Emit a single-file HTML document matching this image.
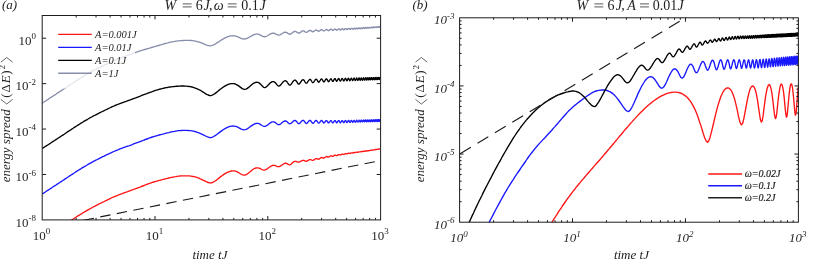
<!DOCTYPE html>
<html><head><meta charset="utf-8"><title>energy spread</title>
<style>
html,body{margin:0;padding:0;background:#fff;}
body{width:814px;height:259px;overflow:hidden;font-family:"Liberation Serif",serif;}
svg{display:block;will-change:transform;}
text{font-family:"Liberation Serif",serif;fill:#222;}
.li{font-style:italic;}
.lr{font-style:normal;}
.ti{font-style:italic;fill:#262626;}
.tr{font-style:normal;fill:#262626;}
</style></head><body>
<svg width="814" height="259" viewBox="0 0 814 259">
<defs>
<clipPath id="ca"><rect x="42.20" y="15.50" width="338.40" height="204.40"/></clipPath>
<clipPath id="cb"><rect x="459.60" y="17.80" width="338.80" height="204.40"/></clipPath>
</defs>
<rect width="814" height="259" fill="#fff"/>
<g clip-path="url(#ca)" fill="none" stroke-linejoin="round" stroke-width="1.35">
<path d="M42.2 239.4L43.6 238.5L45.0 237.6L46.3 236.7L47.7 235.8L49.1 234.9L50.5 234.0L51.8 233.1L53.2 232.2L54.6 231.3L56.0 230.4L57.3 229.5L58.7 228.6L60.1 227.7L61.5 226.8L62.9 225.9L64.2 225.0L65.6 224.1L67.0 223.1L68.4 222.2L69.7 221.3L71.1 220.4L72.5 219.5L73.9 218.6L75.2 217.7L76.6 216.8L78.0 215.9L79.4 215.1L80.8 214.2L82.1 213.4L83.5 212.5L84.9 211.7L86.3 210.9L87.6 210.1L89.0 209.3L90.4 208.5L91.8 207.8L93.1 207.0L94.5 206.3L95.9 205.6L97.3 204.9L98.6 204.2L100.0 203.5L101.4 202.8L102.8 202.2L104.2 201.5L105.5 200.8L106.9 200.2L108.3 199.5L109.7 198.8L111.0 198.2L112.4 197.5L113.8 196.9L115.2 196.3L116.5 195.8L117.9 195.2L119.3 194.7L120.7 194.1L122.1 193.6L123.4 193.1L124.8 192.6L126.2 192.1L127.6 191.7L128.9 191.2L130.3 190.7L131.7 190.2L133.1 189.7L134.4 189.2L135.8 188.6L137.2 188.1L138.6 187.6L140.0 187.1L141.3 186.5L142.7 186.0L144.1 185.5L145.5 184.9L146.8 184.4L148.2 183.9L149.6 183.4L151.0 182.9L152.3 182.4L153.7 182.0L155.1 181.6L156.5 181.2L157.9 180.8L159.2 180.4L160.6 180.1L162.0 179.7L163.4 179.4L164.7 179.0L166.1 178.7L167.5 178.3L168.9 178.0L170.2 177.7L171.6 177.4L173.0 177.1L174.4 176.8L175.7 176.6L177.1 176.3L178.5 176.2L179.9 176.0L181.3 175.9L182.6 175.9L184.0 175.8L185.3 175.8L186.7 175.8L188.0 175.8L189.4 175.9L190.8 176.1L192.1 176.3L193.5 176.5L194.8 176.8L196.2 177.2L197.5 177.7L198.9 178.2L200.2 178.8L201.6 179.4L202.9 180.1L204.3 180.7L205.6 181.4L207.0 182.0L208.4 182.5L209.7 182.9L211.1 182.9L212.4 182.5L213.8 181.8L215.1 181.0L216.5 180.1L217.8 179.0L219.2 177.9L220.5 176.9L221.9 175.8L223.2 174.9L224.6 173.9L225.9 173.1L227.3 172.4L228.7 171.8L230.0 171.3L231.4 171.0L232.7 170.8L234.1 170.9L235.4 171.2L236.8 171.7L238.1 172.3L239.5 173.2L240.8 174.0L242.2 174.7L243.5 175.1L244.9 175.1L246.2 174.6L247.6 173.7L248.8 172.7L250.1 171.7L251.3 170.7L252.5 169.8L253.6 169.0L254.8 168.4L255.9 168.0L256.9 167.8L258.0 167.9L259.0 168.1L260.0 168.5L261.0 169.0L262.0 169.6L263.0 169.9L263.9 170.1L264.8 170.0L265.7 169.7L266.6 169.2L267.5 168.6L268.3 168.0L269.2 167.3L270.0 166.7L270.8 166.2L271.6 165.8L272.4 165.5L273.1 165.4L273.9 165.4L274.7 165.5L275.4 165.7L276.1 166.0L276.8 166.3L277.5 166.6L278.2 166.7L278.9 166.6L279.6 166.5L280.3 166.1L280.9 165.7L281.6 165.3L282.2 164.8L282.8 164.4L283.5 164.0L284.1 163.6L284.7 163.4L285.3 163.2L285.9 163.2L286.5 163.4L287.1 163.7L287.6 164.0L288.2 164.4L288.8 164.7L289.3 164.8L289.9 164.8L290.4 164.6L290.9 164.3L291.5 163.8L292.0 163.3L292.5 162.8L293.0 162.4L293.5 162.0L294.0 161.7L294.5 161.5L295.0 161.4L295.5 161.4L296.0 161.4L296.5 161.6L297.0 161.8L297.4 161.9L297.9 162.0L298.4 162.1L298.8 162.1L299.3 162.0L299.7 161.8L300.2 161.6L300.6 161.4L301.0 161.1L301.5 160.9L301.9 160.7L302.3 160.5L302.7 160.4L303.2 160.3L303.6 160.4L304.0 160.4L304.4 160.6L304.8 160.8L305.2 161.0L305.6 161.1L306.0 161.2L306.4 161.2L306.8 161.2L307.1 161.0L307.5 160.8L307.9 160.6L308.3 160.4L308.6 160.2L309.0 159.9L309.4 159.8L309.7 159.6L310.1 159.6L310.5 159.6L310.8 159.7L311.2 159.8L311.5 160.0L311.9 160.2L312.2 160.3L312.6 160.3L312.9 160.3L313.3 160.2L313.6 160.1L313.9 159.9L314.3 159.7L314.6 159.4L314.9 159.2L315.2 159.0L315.6 158.8L315.9 158.7L316.2 158.6L316.5 158.6L316.8 158.6L317.2 158.8L317.5 158.9L317.8 159.0L318.1 159.2L318.4 159.2L318.7 159.2L319.0 159.1L319.3 158.9L319.6 158.7L319.9 158.5L320.2 158.3L320.5 158.1L320.8 157.9L321.0 157.7L321.3 157.6L321.6 157.5L321.9 157.5L322.2 157.6L322.5 157.7L322.7 157.8L323.0 157.9L323.3 158.0L323.6 158.1L323.9 158.1L324.1 158.0L324.4 157.8L324.7 157.7L324.9 157.5L325.2 157.3L325.5 157.1L325.7 156.9L326.0 156.7L326.2 156.6L326.5 156.5L326.8 156.5L327.0 156.6L327.3 156.7L327.5 156.8L327.8 157.0L328.0 157.1L328.3 157.1L328.5 157.1L328.8 157.0L329.0 156.9L329.3 156.8L329.5 156.6L329.7 156.4L330.0 156.2L330.2 156.1L330.5 155.9L330.7 155.8L330.9 155.8L331.2 155.8L331.4 155.8L331.6 155.9L331.9 156.1L332.1 156.2L332.3 156.3L332.6 156.3L332.8 156.3L333.0 156.3L333.2 156.2L333.5 156.0L333.7 155.9L333.9 155.7L334.1 155.5L334.4 155.4L334.6 155.3L334.8 155.2L335.0 155.1L335.2 155.1L335.4 155.2L335.7 155.3L335.9 155.4L336.1 155.5L336.3 155.6L336.5 155.6L336.7 155.6L336.9 155.6L337.1 155.5L337.3 155.4L337.5 155.2L337.7 155.1L338.0 154.9L338.2 154.8L338.4 154.7L338.6 154.6L338.8 154.6L339.0 154.6L339.2 154.6L339.4 154.7L339.6 154.8L339.8 154.9L340.0 155.0L340.1 155.0L340.3 155.0L340.5 155.0L340.7 154.9L340.9 154.8L341.1 154.6L341.3 154.5L341.5 154.4L341.7 154.3L341.9 154.2L342.1 154.1L342.2 154.1L342.4 154.1L342.6 154.1L342.8 154.2L343.0 154.3L343.2 154.3L343.4 154.4L343.5 154.4L343.7 154.4L343.9 154.4L344.1 154.3L344.3 154.2L344.4 154.1L344.6 154.0L344.8 153.9L345.0 153.8L345.2 153.7L345.3 153.6L345.5 153.6L345.7 153.6L345.9 153.6L346.0 153.7L346.2 153.8L346.4 153.8L346.5 153.9L346.7 153.9L346.9 153.9L347.1 153.9L347.2 153.8L347.4 153.7L347.6 153.6L347.7 153.5L347.9 153.4L348.1 153.3L348.2 153.2L348.4 153.2L348.6 153.2L348.7 153.2L348.9 153.2L349.0 153.3L349.2 153.3L349.4 153.4L349.5 153.4L349.7 153.5L349.9 153.5L350.0 153.4L350.2 153.4L350.3 153.3L350.5 153.2L350.7 153.1L350.8 153.0L351.0 152.9L351.1 152.8L351.3 152.8L351.4 152.8L351.6 152.8L351.7 152.8L351.9 152.8L352.0 152.9L352.2 153.0L352.4 153.0L352.5 153.0L352.7 153.0L352.8 153.0L353.0 152.9L353.1 152.9L353.3 152.8L353.4 152.7L353.6 152.6L353.7 152.5L353.9 152.5L354.0 152.4L354.1 152.4L354.3 152.4L354.4 152.4L354.6 152.5L354.7 152.5L354.9 152.6L355.0 152.6L355.2 152.6L355.3 152.6L355.5 152.6L355.6 152.6L355.7 152.5L355.9 152.4L356.0 152.3L356.2 152.3L356.3 152.2L356.4 152.1L356.6 152.1L356.7 152.1L356.9 152.1L357.0 152.1L357.1 152.1L357.3 152.2L357.4 152.2L357.5 152.3L357.7 152.3L357.8 152.3L358.0 152.2L358.1 152.2L358.2 152.1L358.4 152.1L358.5 152.0L358.6 151.9L358.8 151.9L358.9 151.8L359.0 151.8L359.2 151.8L359.3 151.8L359.4 151.8L359.6 151.8L359.7 151.9L359.8 151.9L360.0 151.9L360.1 151.9L360.2 151.9L360.3 151.9L360.5 151.9L360.6 151.8L360.7 151.8L360.9 151.7L361.0 151.6L361.1 151.6L361.2 151.5L361.4 151.5L361.5 151.5L361.6 151.5L361.7 151.5L361.9 151.5L362.0 151.5L362.1 151.6L362.2 151.6L362.4 151.6L362.5 151.6L362.6 151.6L362.7 151.5L362.9 151.5L363.0 151.4L363.1 151.4L363.2 151.3L363.4 151.3L363.5 151.2L363.6 151.2L363.7 151.2L363.8 151.2L364.0 151.2L364.1 151.2L364.2 151.2L364.3 151.3L364.4 151.3L364.6 151.3L364.7 151.3L364.8 151.3L364.9 151.2L365.0 151.2L365.1 151.1L365.3 151.1L365.4 151.0L365.5 151.0L365.6 150.9L365.7 150.9L365.8 150.9L366.0 150.9L366.1 150.9L366.2 150.9L366.3 150.9L366.4 151.0L366.5 151.0L366.6 151.0L366.8 151.0L366.9 151.0L367.0 150.9L367.1 150.9L367.2 150.8L367.3 150.8L367.4 150.7L367.5 150.7L367.7 150.7L367.8 150.6L367.9 150.6L368.0 150.6L368.1 150.6L368.2 150.6L368.3 150.7L368.4 150.7L368.5 150.7L368.6 150.7L368.8 150.7L368.9 150.7L369.0 150.6L369.1 150.6L369.2 150.6L369.3 150.5L369.4 150.5L369.5 150.4L369.6 150.4L369.7 150.4L369.8 150.3L369.9 150.3L370.0 150.3L370.2 150.4L370.3 150.4L370.4 150.4L370.5 150.4L370.6 150.4L370.7 150.4L370.8 150.4L370.9 150.4L371.0 150.3L371.1 150.3L371.2 150.2L371.3 150.2L371.4 150.1L371.5 150.1L371.6 150.1L371.7 150.1L371.8 150.1L371.9 150.1L372.0 150.1L372.1 150.1L372.2 150.1L372.3 150.1L372.4 150.1L372.5 150.1L372.6 150.1L372.7 150.1L372.8 150.0L372.9 150.0L373.0 150.0L373.1 149.9L373.2 149.9L373.3 149.8L373.4 149.8L373.5 149.8L373.6 149.8L373.7 149.8L373.8 149.8L373.9 149.8L374.0 149.8L374.1 149.9L374.2 149.9L374.3 149.9L374.4 149.8L374.5 149.8L374.6 149.8L374.7 149.7L374.8 149.7L374.9 149.6L375.0 149.6L375.1 149.6L375.2 149.5L375.3 149.5L375.4 149.5L375.5 149.5L375.6 149.5L375.7 149.6L375.7 149.6L375.8 149.6L375.9 149.6L376.0 149.6L376.1 149.6L376.2 149.5L376.3 149.5L376.4 149.5L376.5 149.4L376.6 149.4L376.7 149.3L376.8 149.3L376.9 149.3L377.0 149.3L377.0 149.3L377.1 149.3L377.2 149.3L377.3 149.3L377.4 149.3L377.5 149.3L377.6 149.3L377.7 149.3L377.8 149.3L377.9 149.3L378.0 149.3L378.1 149.2L378.1 149.2L378.2 149.1L378.3 149.1L378.4 149.1L378.5 149.0L378.6 149.0L378.7 149.0L378.8 149.0L378.9 149.0L378.9 149.1L379.0 149.1L379.1 149.1L379.2 149.1L379.3 149.1L379.4 149.1L379.5 149.1L379.6 149.0L379.6 149.0L379.7 148.9L379.8 148.9L379.9 148.8L380.0 148.8L380.1 148.8L380.2 148.8L380.3 148.8L380.3 148.8L380.4 148.8L380.5 148.8L380.6 148.8L380.6 148.8" stroke="#ff1414"/>
<path d="M42.2 193.9L43.6 193.1L45.0 192.2L46.3 191.3L47.7 190.4L49.1 189.5L50.5 188.6L51.8 187.7L53.2 186.8L54.6 185.9L56.0 185.0L57.3 184.1L58.7 183.2L60.1 182.3L61.5 181.4L62.9 180.5L64.2 179.6L65.6 178.6L67.0 177.7L68.4 176.8L69.7 175.9L71.1 175.0L72.5 174.1L73.9 173.2L75.2 172.3L76.6 171.4L78.0 170.5L79.4 169.6L80.8 168.8L82.1 167.9L83.5 167.1L84.9 166.3L86.3 165.5L87.6 164.7L89.0 163.9L90.4 163.1L91.8 162.3L93.1 161.6L94.5 160.9L95.9 160.2L97.3 159.5L98.6 158.8L100.0 158.1L101.4 157.4L102.8 156.7L104.2 156.1L105.5 155.4L106.9 154.7L108.3 154.1L109.7 153.4L111.0 152.8L112.4 152.1L113.8 151.5L115.2 150.9L116.5 150.3L117.9 149.8L119.3 149.2L120.7 148.7L122.1 148.2L123.4 147.7L124.8 147.2L126.2 146.7L127.6 146.2L128.9 145.8L130.3 145.3L131.7 144.8L133.1 144.2L134.4 143.7L135.8 143.2L137.2 142.7L138.6 142.2L140.0 141.6L141.3 141.1L142.7 140.6L144.1 140.0L145.5 139.5L146.8 139.0L148.2 138.5L149.6 137.9L151.0 137.5L152.3 137.0L153.7 136.6L155.1 136.2L156.5 135.8L157.9 135.4L159.2 135.0L160.6 134.6L162.0 134.3L163.4 133.9L164.7 133.6L166.1 133.2L167.5 132.9L168.9 132.6L170.2 132.2L171.6 131.9L173.0 131.6L174.4 131.4L175.7 131.1L177.1 130.9L178.5 130.7L179.9 130.6L181.3 130.5L182.6 130.4L184.0 130.4L185.3 130.4L186.7 130.4L188.0 130.5L189.4 130.6L190.8 130.7L192.1 130.9L193.5 131.2L194.8 131.5L196.2 131.9L197.5 132.4L198.9 132.9L200.2 133.4L201.6 134.1L202.9 134.7L204.3 135.4L205.6 136.0L207.0 136.6L208.4 137.1L209.7 137.5L211.1 137.6L212.4 137.2L213.8 136.5L215.1 135.6L216.5 134.7L217.8 133.7L219.2 132.6L220.5 131.6L221.9 130.6L223.2 129.7L224.6 128.8L225.9 128.1L227.3 127.4L228.7 126.8L230.0 126.4L231.4 126.1L232.7 126.0L234.1 126.1L235.4 126.3L236.8 126.7L238.1 127.3L239.5 128.1L240.8 128.8L242.2 129.4L243.5 129.8L244.9 129.7L246.2 129.3L247.6 128.6L248.8 127.8L250.1 126.8L251.3 125.9L252.5 125.1L253.6 124.4L254.8 123.9L255.9 123.5L256.9 123.3L258.0 123.4L259.0 123.7L260.0 124.2L261.0 124.9L262.0 125.5L263.0 126.0L263.9 126.4L264.8 126.4L265.7 126.2L266.6 125.7L267.5 125.1L268.3 124.4L269.2 123.8L270.0 123.1L270.8 122.6L271.6 122.2L272.4 121.9L273.1 121.8L273.9 121.9L274.7 122.2L275.4 122.6L276.1 123.2L276.8 123.8L277.5 124.3L278.2 124.6L278.9 124.7L279.6 124.5L280.3 124.1L280.9 123.7L281.6 123.1L282.2 122.5L282.8 122.0L283.5 121.6L284.1 121.2L284.7 121.0L285.3 120.9L285.9 121.0L286.5 121.3L287.1 121.8L287.6 122.3L288.2 122.9L288.8 123.3L289.3 123.7L289.9 123.8L290.4 123.7L290.9 123.4L291.5 123.0L292.0 122.5L292.5 122.0L293.0 121.5L293.5 121.0L294.0 120.7L294.5 120.5L295.0 120.5L295.5 120.6L296.0 120.9L296.5 121.4L297.0 122.0L297.4 122.6L297.9 123.2L298.4 123.5L298.8 123.7L299.3 123.6L299.7 123.3L300.2 122.8L300.6 122.3L301.0 121.8L301.5 121.3L301.9 120.9L302.3 120.6L302.7 120.4L303.2 120.4L303.6 120.5L304.0 120.8L304.4 121.3L304.8 121.9L305.2 122.5L305.6 123.0L306.0 123.3L306.4 123.5L306.8 123.4L307.1 123.1L307.5 122.7L307.9 122.2L308.3 121.7L308.6 121.3L309.0 120.9L309.4 120.6L309.7 120.4L310.1 120.4L310.5 120.5L310.8 120.8L311.2 121.3L311.5 121.8L311.9 122.4L312.2 122.8L312.6 123.2L312.9 123.3L313.3 123.2L313.6 122.9L313.9 122.6L314.3 122.1L314.6 121.7L314.9 121.3L315.2 120.9L315.6 120.6L315.9 120.5L316.2 120.5L316.5 120.6L316.8 120.9L317.2 121.3L317.5 121.8L317.8 122.3L318.1 122.7L318.4 123.0L318.7 123.1L319.0 123.0L319.3 122.8L319.6 122.5L319.9 122.1L320.2 121.7L320.5 121.3L320.8 120.9L321.0 120.7L321.3 120.5L321.6 120.5L321.9 120.6L322.2 120.9L322.5 121.3L322.7 121.7L323.0 122.2L323.3 122.6L323.6 122.9L323.9 123.0L324.1 122.9L324.4 122.7L324.7 122.4L324.9 122.0L325.2 121.6L325.5 121.3L325.7 121.0L326.0 120.7L326.2 120.6L326.5 120.6L326.8 120.7L327.0 120.9L327.3 121.3L327.5 121.7L327.8 122.2L328.0 122.6L328.3 122.8L328.5 122.9L328.8 122.8L329.0 122.6L329.3 122.4L329.5 122.0L329.7 121.7L330.0 121.3L330.2 121.0L330.5 120.8L330.7 120.6L330.9 120.6L331.2 120.7L331.4 121.0L331.6 121.3L331.9 121.7L332.1 122.2L332.3 122.5L332.6 122.8L332.8 122.8L333.0 122.8L333.2 122.6L333.5 122.3L333.7 122.0L333.9 121.6L334.1 121.3L334.4 121.0L334.6 120.8L334.8 120.6L335.0 120.6L335.2 120.7L335.4 121.0L335.7 121.3L335.9 121.7L336.1 122.1L336.3 122.5L336.5 122.7L336.7 122.8L336.9 122.7L337.1 122.5L337.3 122.3L337.5 121.9L337.7 121.6L338.0 121.3L338.2 121.0L338.4 120.8L338.6 120.6L338.8 120.6L339.0 120.7L339.2 120.9L339.4 121.3L339.6 121.7L339.8 122.1L340.0 122.4L340.1 122.6L340.3 122.7L340.5 122.7L340.7 122.5L340.9 122.2L341.1 121.9L341.3 121.6L341.5 121.2L341.7 120.9L341.9 120.7L342.1 120.6L342.2 120.6L342.4 120.7L342.6 120.9L342.8 121.2L343.0 121.6L343.2 122.0L343.4 122.3L343.5 122.6L343.7 122.6L343.9 122.6L344.1 122.4L344.3 122.1L344.4 121.8L344.6 121.5L344.8 121.2L345.0 120.9L345.2 120.7L345.3 120.6L345.5 120.5L345.7 120.6L345.9 120.9L346.0 121.2L346.2 121.5L346.4 121.9L346.5 122.2L346.7 122.5L346.9 122.5L347.1 122.5L347.2 122.3L347.4 122.1L347.6 121.7L347.7 121.4L347.9 121.1L348.1 120.8L348.2 120.6L348.4 120.5L348.6 120.5L348.7 120.6L348.9 120.8L349.0 121.1L349.2 121.5L349.4 121.8L349.5 122.1L349.7 122.4L349.9 122.4L350.0 122.4L350.2 122.2L350.3 121.9L350.5 121.6L350.7 121.3L350.8 121.0L351.0 120.8L351.1 120.5L351.3 120.4L351.4 120.4L351.6 120.5L351.7 120.7L351.9 121.0L352.0 121.4L352.2 121.7L352.4 122.0L352.5 122.2L352.7 122.3L352.8 122.3L353.0 122.1L353.1 121.8L353.3 121.5L353.4 121.2L353.6 120.9L353.7 120.7L353.9 120.5L354.0 120.3L354.1 120.3L354.3 120.4L354.4 120.6L354.6 120.9L354.7 121.3L354.9 121.6L355.0 121.9L355.2 122.1L355.3 122.2L355.5 122.1L355.6 122.0L355.7 121.7L355.9 121.4L356.0 121.1L356.2 120.8L356.3 120.6L356.4 120.4L356.6 120.3L356.7 120.2L356.9 120.3L357.0 120.5L357.1 120.8L357.3 121.2L357.4 121.5L357.5 121.8L357.7 122.0L357.8 122.1L358.0 122.0L358.1 121.9L358.2 121.6L358.4 121.3L358.5 121.0L358.6 120.8L358.8 120.5L358.9 120.3L359.0 120.2L359.2 120.2L359.3 120.2L359.4 120.4L359.6 120.7L359.7 121.1L359.8 121.4L360.0 121.7L360.1 121.9L360.2 122.0L360.3 121.9L360.5 121.8L360.6 121.5L360.7 121.3L360.9 121.0L361.0 120.7L361.1 120.4L361.2 120.2L361.4 120.1L361.5 120.1L361.6 120.2L361.7 120.4L361.9 120.7L362.0 121.0L362.1 121.4L362.2 121.6L362.4 121.8L362.5 121.9L362.6 121.9L362.7 121.7L362.9 121.5L363.0 121.2L363.1 120.9L363.2 120.6L363.4 120.4L363.5 120.2L363.6 120.1L363.7 120.0L363.8 120.1L364.0 120.3L364.1 120.6L364.2 120.9L364.3 121.3L364.4 121.6L364.6 121.8L364.7 121.8L364.8 121.8L364.9 121.6L365.0 121.4L365.1 121.1L365.3 120.8L365.4 120.6L365.5 120.3L365.6 120.1L365.7 120.0L365.8 120.0L366.0 120.1L366.1 120.3L366.2 120.5L366.3 120.9L366.4 121.2L366.5 121.5L366.6 121.7L366.8 121.8L366.9 121.7L367.0 121.6L367.1 121.3L367.2 121.1L367.3 120.8L367.4 120.5L367.5 120.2L367.7 120.1L367.8 119.9L367.9 119.9L368.0 120.0L368.1 120.2L368.2 120.5L368.3 120.8L368.4 121.2L368.5 121.5L368.6 121.6L368.8 121.7L368.9 121.7L369.0 121.5L369.1 121.3L369.2 121.0L369.3 120.7L369.4 120.4L369.5 120.2L369.6 120.0L369.7 119.9L369.8 119.9L369.9 119.9L370.0 120.1L370.2 120.4L370.3 120.8L370.4 121.1L370.5 121.4L370.6 121.6L370.7 121.7L370.8 121.6L370.9 121.5L371.0 121.2L371.1 121.0L371.2 120.7L371.3 120.4L371.4 120.1L371.5 119.9L371.6 119.8L371.7 119.8L371.8 119.9L371.9 120.1L372.0 120.4L372.1 120.7L372.2 121.0L372.3 121.3L372.4 121.5L372.5 121.6L372.6 121.6L372.7 121.4L372.8 121.2L372.9 120.9L373.0 120.6L373.1 120.3L373.2 120.1L373.3 119.9L373.4 119.8L373.5 119.8L373.6 119.8L373.7 120.0L373.8 120.3L373.9 120.7L374.0 121.0L374.1 121.3L374.2 121.5L374.3 121.6L374.4 121.5L374.5 121.4L374.6 121.1L374.7 120.8L374.8 120.6L374.9 120.3L375.0 120.0L375.1 119.8L375.2 119.7L375.3 119.7L375.4 119.8L375.5 120.0L375.6 120.3L375.7 120.6L375.7 120.9L375.8 121.2L375.9 121.4L376.0 121.5L376.1 121.5L376.2 121.3L376.3 121.1L376.4 120.8L376.5 120.5L376.6 120.2L376.7 120.0L376.8 119.8L376.9 119.7L377.0 119.6L377.0 119.7L377.1 119.9L377.2 120.2L377.3 120.6L377.4 120.9L377.5 121.2L377.6 121.4L377.7 121.5L377.8 121.4L377.9 121.3L378.0 121.0L378.1 120.8L378.1 120.5L378.2 120.2L378.3 119.9L378.4 119.7L378.5 119.6L378.6 119.6L378.7 119.7L378.8 119.9L378.9 120.2L378.9 120.5L379.0 120.9L379.1 121.2L379.2 121.3L379.3 121.4L379.4 121.4L379.5 121.2L379.6 121.0L379.6 120.7L379.7 120.4L379.8 120.1L379.9 119.9L380.0 119.7L380.1 119.6L380.2 119.6L380.3 119.6L380.3 119.8L380.4 120.1L380.5 120.5L380.6 120.8L380.6 120.8" stroke="#1818ff"/>
<path d="M42.2 148.5L43.6 147.6L44.9 146.8L46.3 145.9L47.7 145.0L49.1 144.1L50.4 143.2L51.8 142.3L53.2 141.4L54.6 140.5L55.9 139.6L57.3 138.7L58.7 137.8L60.1 136.9L61.4 136.0L62.8 135.1L64.2 134.2L65.6 133.2L66.9 132.3L68.3 131.4L69.7 130.5L71.1 129.6L72.4 128.7L73.8 127.8L75.2 126.9L76.6 126.0L77.9 125.1L79.3 124.3L80.7 123.4L82.1 122.5L83.4 121.7L84.8 120.9L86.2 120.1L87.6 119.3L88.9 118.5L90.3 117.7L91.7 117.0L93.1 116.2L94.4 115.5L95.8 114.8L97.2 114.1L98.6 113.4L99.9 112.7L101.3 112.0L102.7 111.4L104.1 110.7L105.4 110.0L106.8 109.4L108.2 108.7L109.6 108.0L110.9 107.4L112.3 106.7L113.7 106.1L115.0 105.5L116.4 105.0L117.8 104.4L119.2 103.9L120.5 103.4L121.9 102.8L123.3 102.3L124.7 101.8L126.0 101.4L127.4 100.9L128.8 100.4L130.2 99.9L131.5 99.4L132.9 98.9L134.3 98.4L135.7 97.9L137.0 97.3L138.4 96.8L139.8 96.3L141.2 95.7L142.5 95.2L143.9 94.7L145.3 94.2L146.7 93.7L148.0 93.1L149.4 92.6L150.8 92.1L152.2 91.6L153.5 91.1L154.9 90.6L156.3 90.2L157.7 89.8L159.0 89.4L160.4 89.0L161.8 88.7L163.2 88.3L164.5 88.0L165.9 87.7L167.3 87.5L168.7 87.2L170.0 87.0L171.4 86.8L172.8 86.6L174.2 86.5L175.5 86.3L176.9 86.2L178.3 86.2L179.7 86.1L181.0 86.0L182.4 86.0L183.8 86.0L185.1 86.1L186.5 86.1L187.8 86.3L189.2 86.5L190.5 86.7L191.9 87.0L193.2 87.3L194.6 87.8L195.9 88.3L197.3 88.9L198.6 89.5L200.0 90.2L201.4 91.0L202.7 91.9L204.1 92.7L205.4 93.6L206.8 94.4L208.1 95.0L209.5 95.5L210.8 95.6L212.2 95.2L213.5 94.5L214.9 93.6L216.2 92.6L217.6 91.5L218.9 90.4L220.3 89.3L221.7 88.3L223.0 87.3L224.4 86.4L225.7 85.6L227.1 84.9L228.4 84.4L229.8 83.9L231.1 83.7L232.5 83.6L233.8 83.7L235.2 84.0L236.5 84.6L237.9 85.4L239.3 86.4L240.6 87.4L242.0 88.4L243.3 89.2L244.7 89.4L246.0 89.1L247.3 88.4L248.6 87.4L249.9 86.3L251.1 85.2L252.3 84.2L253.4 83.4L254.6 82.8L255.7 82.3L256.8 82.2L257.8 82.4L258.9 82.8L259.9 83.6L260.9 84.5L261.8 85.6L262.8 86.6L263.7 87.3L264.7 87.6L265.6 87.4L266.4 86.8L267.3 86.0L268.2 85.1L269.0 84.2L269.8 83.3L270.7 82.6L271.5 82.1L272.2 81.7L273.0 81.6L273.8 81.7L274.5 82.1L275.3 82.7L276.0 83.5L276.7 84.4L277.4 85.2L278.1 85.8L278.8 86.1L279.5 85.9L280.2 85.4L280.8 84.7L281.5 83.9L282.1 83.1L282.7 82.3L283.4 81.7L284.0 81.2L284.6 80.8L285.2 80.7L285.8 80.8L286.4 81.2L287.0 81.8L287.5 82.6L288.1 83.5L288.7 84.3L289.2 84.9L289.8 85.1L290.3 85.0L290.9 84.5L291.4 83.9L291.9 83.1L292.4 82.4L292.9 81.6L293.5 81.0L294.0 80.5L294.5 80.2L295.0 80.1L295.4 80.2L295.9 80.6L296.4 81.2L296.9 81.9L297.3 82.7L297.8 83.4L298.3 83.9L298.7 84.1L299.2 84.0L299.6 83.6L300.1 83.0L300.5 82.3L301.0 81.7L301.4 81.0L301.8 80.5L302.2 80.1L302.7 79.8L303.1 79.7L303.5 79.8L303.9 80.1L304.3 80.7L304.7 81.3L305.1 82.0L305.5 82.6L305.9 83.1L306.3 83.2L306.7 83.1L307.1 82.8L307.5 82.3L307.8 81.7L308.2 81.1L308.6 80.6L309.0 80.1L309.3 79.7L309.7 79.5L310.0 79.4L310.4 79.5L310.8 79.8L311.1 80.3L311.5 80.9L311.8 81.5L312.2 82.1L312.5 82.5L312.9 82.7L313.2 82.6L313.5 82.3L313.9 81.9L314.2 81.3L314.5 80.8L314.9 80.3L315.2 79.8L315.5 79.5L315.8 79.3L316.2 79.2L316.5 79.3L316.8 79.6L317.1 80.0L317.4 80.6L317.7 81.2L318.0 81.7L318.3 82.1L318.6 82.3L318.9 82.2L319.2 81.9L319.5 81.5L319.8 81.0L320.1 80.5L320.4 80.1L320.7 79.6L321.0 79.3L321.3 79.1L321.6 79.0L321.9 79.1L322.1 79.4L322.4 79.8L322.7 80.4L323.0 80.9L323.3 81.4L323.5 81.8L323.8 81.9L324.1 81.9L324.3 81.6L324.6 81.3L324.9 80.8L325.1 80.3L325.4 79.9L325.7 79.5L325.9 79.1L326.2 78.9L326.5 78.9L326.7 79.0L327.0 79.2L327.2 79.7L327.5 80.2L327.7 80.7L328.0 81.2L328.2 81.5L328.5 81.7L328.7 81.6L329.0 81.4L329.2 81.0L329.5 80.6L329.7 80.1L329.9 79.7L330.2 79.3L330.4 79.0L330.7 78.8L330.9 78.8L331.1 78.9L331.4 79.1L331.6 79.5L331.8 80.0L332.1 80.5L332.3 81.0L332.5 81.3L332.7 81.4L333.0 81.4L333.2 81.2L333.4 80.8L333.6 80.4L333.9 80.0L334.1 79.6L334.3 79.2L334.5 78.9L334.8 78.7L335.0 78.6L335.2 78.7L335.4 79.0L335.6 79.4L335.8 79.9L336.0 80.4L336.3 80.8L336.5 81.1L336.7 81.3L336.9 81.2L337.1 81.0L337.3 80.7L337.5 80.3L337.7 79.8L337.9 79.4L338.1 79.1L338.3 78.8L338.5 78.6L338.7 78.5L338.9 78.6L339.1 78.9L339.3 79.3L339.5 79.7L339.7 80.2L339.9 80.6L340.1 80.9L340.3 81.1L340.5 81.0L340.7 80.8L340.9 80.5L341.1 80.1L341.3 79.7L341.5 79.3L341.7 78.9L341.8 78.7L342.0 78.5L342.2 78.4L342.4 78.5L342.6 78.8L342.8 79.1L343.0 79.6L343.1 80.1L343.3 80.5L343.5 80.8L343.7 80.9L343.9 80.9L344.1 80.7L344.2 80.4L344.4 80.0L344.6 79.6L344.8 79.2L344.9 78.8L345.1 78.6L345.3 78.4L345.5 78.3L345.7 78.4L345.8 78.7L346.0 79.0L346.2 79.5L346.3 80.0L346.5 80.4L346.7 80.7L346.9 80.8L347.0 80.8L347.2 80.6L347.4 80.2L347.5 79.9L347.7 79.5L347.9 79.1L348.0 78.7L348.2 78.5L348.4 78.3L348.5 78.2L348.7 78.3L348.9 78.6L349.0 78.9L349.2 79.4L349.3 79.8L349.5 80.3L349.7 80.6L349.8 80.7L350.0 80.6L350.1 80.4L350.3 80.1L350.5 79.8L350.6 79.4L350.8 79.0L350.9 78.6L351.1 78.4L351.3 78.2L351.4 78.2L351.6 78.2L351.7 78.5L351.9 78.8L352.0 79.3L352.2 79.7L352.3 80.2L352.5 80.5L352.6 80.6L352.8 80.5L352.9 80.3L353.1 80.0L353.2 79.7L353.4 79.3L353.5 78.9L353.7 78.6L353.8 78.3L354.0 78.1L354.1 78.1L354.3 78.2L354.4 78.4L354.6 78.7L354.7 79.2L354.9 79.7L355.0 80.1L355.1 80.4L355.3 80.5L355.4 80.4L355.6 80.2L355.7 79.9L355.9 79.6L356.0 79.2L356.1 78.8L356.3 78.5L356.4 78.2L356.6 78.0L356.7 78.0L356.8 78.1L357.0 78.3L357.1 78.7L357.3 79.1L357.4 79.6L357.5 80.0L357.7 80.3L357.8 80.4L357.9 80.3L358.1 80.2L358.2 79.9L358.3 79.5L358.5 79.1L358.6 78.7L358.7 78.4L358.9 78.1L359.0 78.0L359.1 77.9L359.3 78.0L359.4 78.2L359.5 78.6L359.7 79.0L359.8 79.5L359.9 79.9L360.1 80.2L360.2 80.3L360.3 80.2L360.4 80.1L360.6 79.8L360.7 79.4L360.8 79.0L361.0 78.7L361.1 78.3L361.2 78.1L361.3 77.9L361.5 77.9L361.6 78.0L361.7 78.2L361.8 78.5L362.0 78.9L362.1 79.4L362.2 79.8L362.3 80.1L362.5 80.2L362.6 80.1L362.7 80.0L362.8 79.7L363.0 79.3L363.1 79.0L363.2 78.6L363.3 78.3L363.5 78.0L363.6 77.9L363.7 77.8L363.8 77.9L363.9 78.1L364.1 78.5L364.2 78.9L364.3 79.3L364.4 79.7L364.5 80.0L364.6 80.1L364.8 80.1L364.9 79.9L365.0 79.6L365.1 79.3L365.2 78.9L365.4 78.5L365.5 78.2L365.6 78.0L365.7 77.8L365.8 77.7L365.9 77.8L366.1 78.1L366.2 78.4L366.3 78.8L366.4 79.2L366.5 79.6L366.6 79.9L366.7 80.0L366.8 80.0L367.0 79.8L367.1 79.5L367.2 79.2L367.3 78.8L367.4 78.5L367.5 78.2L367.6 77.9L367.7 77.7L367.9 77.7L368.0 77.8L368.1 78.0L368.2 78.3L368.3 78.7L368.4 79.2L368.5 79.5L368.6 79.8L368.7 79.9L368.8 79.9L369.0 79.7L369.1 79.4L369.2 79.1L369.3 78.8L369.4 78.4L369.5 78.1L369.6 77.8L369.7 77.7L369.8 77.6L369.9 77.7L370.0 77.9L370.1 78.3L370.2 78.7L370.3 79.1L370.4 79.5L370.6 79.7L370.7 79.8L370.8 79.8L370.9 79.6L371.0 79.4L371.1 79.0L371.2 78.7L371.3 78.3L371.4 78.0L371.5 77.8L371.6 77.6L371.7 77.6L371.8 77.7L371.9 77.9L372.0 78.2L372.1 78.6L372.2 79.0L372.3 79.4L372.4 79.6L372.5 79.8L372.6 79.7L372.7 79.6L372.8 79.3L372.9 79.0L373.0 78.6L373.1 78.3L373.2 78.0L373.3 77.8L373.4 77.6L373.5 77.6L373.6 77.6L373.7 77.8L373.8 78.2L373.9 78.6L374.0 79.0L374.1 79.3L374.2 79.6L374.3 79.7L374.4 79.6L374.5 79.5L374.6 79.2L374.7 78.9L374.8 78.6L374.9 78.2L375.0 77.9L375.1 77.7L375.2 77.6L375.3 77.5L375.3 77.6L375.4 77.8L375.5 78.1L375.6 78.5L375.7 78.9L375.8 79.2L375.9 79.5L376.0 79.6L376.1 79.6L376.2 79.4L376.3 79.2L376.4 78.8L376.5 78.5L376.6 78.2L376.7 77.9L376.8 77.7L376.8 77.5L376.9 77.5L377.0 77.6L377.1 77.8L377.2 78.1L377.3 78.4L377.4 78.8L377.5 79.2L377.6 79.4L377.7 79.5L377.8 79.5L377.9 79.3L377.9 79.1L378.0 78.8L378.1 78.5L378.2 78.1L378.3 77.9L378.4 77.6L378.5 77.5L378.6 77.4L378.7 77.5L378.8 77.7L378.8 78.0L378.9 78.4L379.0 78.8L379.1 79.1L379.2 79.4L379.3 79.5L379.4 79.4L379.5 79.3L379.5 79.0L379.6 78.7L379.7 78.4L379.8 78.1L379.9 77.8L380.0 77.6L380.1 77.5L380.2 77.4L380.2 77.5L380.3 77.7L380.4 78.0L380.5 78.3L380.6 78.7L380.6 78.8" stroke="#000000"/>
<path d="M42.2 103.1L43.6 102.2L44.9 101.3L46.3 100.5L47.7 99.6L49.0 98.7L50.4 97.8L51.8 96.9L53.1 96.0L54.5 95.1L55.9 94.2L57.2 93.3L58.6 92.4L60.0 91.5L61.4 90.6L62.7 89.7L64.1 88.8L65.5 87.9L66.8 87.0L68.2 86.1L69.6 85.1L70.9 84.2L72.3 83.3L73.7 82.5L75.0 81.6L76.4 80.7L77.8 79.8L79.1 78.9L80.5 78.1L81.9 77.2L83.2 76.4L84.6 75.6L86.0 74.8L87.3 74.0L88.7 73.2L90.1 72.4L91.4 71.7L92.8 70.9L94.2 70.2L95.6 69.5L96.9 68.8L98.3 68.1L99.7 67.4L101.0 66.7L102.4 66.1L103.8 65.4L105.1 64.7L106.5 64.1L107.9 63.4L109.2 62.8L110.6 62.1L112.0 61.5L113.3 60.9L114.7 60.3L116.1 59.7L117.4 59.1L118.8 58.6L120.2 58.1L121.5 57.6L122.9 57.0L124.3 56.6L125.6 56.1L127.0 55.6L128.4 55.1L129.7 54.6L131.1 54.1L132.5 53.6L133.9 53.1L135.2 52.6L136.6 52.1L138.0 51.6L139.3 51.2L140.7 50.7L142.1 50.3L143.4 49.9L144.8 49.5L146.2 49.1L147.5 48.7L148.9 48.3L150.3 47.9L151.6 47.5L153.0 47.1L154.4 46.7L155.7 46.3L157.1 45.9L158.5 45.5L159.8 45.1L161.2 44.7L162.6 44.3L163.9 43.9L165.3 43.5L166.7 43.1L168.1 42.8L169.4 42.4L170.8 42.1L172.2 41.8L173.5 41.6L174.9 41.3L176.3 41.1L177.6 40.9L179.0 40.8L180.4 40.7L181.7 40.6L183.1 40.5L184.5 40.4L185.8 40.3L187.2 40.3L188.5 40.3L189.9 40.4L191.2 40.5L192.6 40.6L193.9 40.8L195.3 41.1L196.6 41.4L198.0 41.8L199.3 42.2L200.7 42.7L202.1 43.2L203.4 43.7L204.8 44.3L206.1 44.8L207.5 45.3L208.8 45.6L210.2 45.9L211.5 45.7L212.9 45.2L214.2 44.6L215.6 43.8L216.9 42.9L218.3 42.1L219.6 41.2L221.0 40.3L222.4 39.4L223.7 38.7L225.1 37.9L226.4 37.3L227.8 36.7L229.1 36.3L230.5 35.9L231.8 35.8L233.2 35.7L234.5 35.8L235.9 36.1L237.2 36.6L238.6 37.1L240.0 37.8L241.3 38.4L242.7 38.8L244.0 39.0L245.4 38.9L246.7 38.5L248.0 37.9L249.3 37.2L250.5 36.5L251.7 35.8L252.9 35.2L254.0 34.7L255.1 34.3L256.2 34.1L257.3 34.1L258.4 34.2L259.4 34.6L260.4 35.1L261.4 35.6L262.3 36.2L263.3 36.5L264.2 36.7L265.1 36.7L266.0 36.4L266.9 36.0L267.8 35.5L268.6 35.0L269.4 34.5L270.3 34.0L271.1 33.7L271.9 33.4L272.6 33.2L273.4 33.2L274.2 33.3L274.9 33.5L275.6 33.9L276.4 34.3L277.1 34.6L277.8 34.9L278.5 35.1L279.2 35.1L279.8 34.9L280.5 34.6L281.1 34.2L281.8 33.8L282.4 33.4L283.1 33.0L283.7 32.6L284.3 32.3L284.9 32.2L285.5 32.2L286.1 32.3L286.7 32.5L287.3 32.9L287.8 33.3L288.4 33.7L289.0 34.0L289.5 34.2L290.1 34.2L290.6 34.0L291.1 33.7L291.7 33.3L292.2 32.9L292.7 32.5L293.2 32.1L293.7 31.8L294.2 31.5L294.7 31.4L295.2 31.4L295.7 31.5L296.2 31.7L296.6 32.0L297.1 32.4L297.6 32.7L298.1 33.0L298.5 33.1L299.0 33.1L299.4 33.0L299.9 32.7L300.3 32.4L300.7 32.1L301.2 31.7L301.6 31.4L302.0 31.1L302.5 30.9L302.9 30.8L303.3 30.8L303.7 30.9L304.1 31.1L304.5 31.4L304.9 31.7L305.3 32.0L305.7 32.2L306.1 32.3L306.5 32.3L306.9 32.2L307.3 32.0L307.7 31.8L308.0 31.5L308.4 31.2L308.8 30.9L309.1 30.7L309.5 30.5L309.9 30.4L310.2 30.4L310.6 30.5L310.9 30.7L311.3 30.9L311.7 31.2L312.0 31.4L312.3 31.6L312.7 31.8L313.0 31.7L313.4 31.6L313.7 31.5L314.0 31.2L314.4 31.0L314.7 30.7L315.0 30.5L315.4 30.3L315.7 30.1L316.0 30.0L316.3 30.0L316.6 30.1L316.9 30.3L317.3 30.5L317.6 30.8L317.9 31.0L318.2 31.2L318.5 31.3L318.8 31.3L319.1 31.2L319.4 31.0L319.7 30.8L320.0 30.6L320.3 30.4L320.6 30.1L320.9 29.9L321.1 29.8L321.4 29.7L321.7 29.7L322.0 29.8L322.3 30.0L322.6 30.2L322.8 30.4L323.1 30.7L323.4 30.8L323.7 30.9L323.9 30.9L324.2 30.9L324.5 30.7L324.8 30.5L325.0 30.3L325.3 30.1L325.5 29.9L325.8 29.7L326.1 29.5L326.3 29.5L326.6 29.5L326.8 29.6L327.1 29.7L327.4 29.9L327.6 30.2L327.9 30.4L328.1 30.5L328.4 30.6L328.6 30.7L328.9 30.6L329.1 30.4L329.3 30.3L329.6 30.0L329.8 29.8L330.1 29.6L330.3 29.5L330.5 29.3L330.8 29.2L331.0 29.3L331.3 29.3L331.5 29.5L331.7 29.7L332.0 29.9L332.2 30.1L332.4 30.3L332.6 30.4L332.9 30.4L333.1 30.3L333.3 30.2L333.5 30.0L333.8 29.8L334.0 29.6L334.2 29.4L334.4 29.2L334.6 29.1L334.9 29.1L335.1 29.1L335.3 29.1L335.5 29.3L335.7 29.5L335.9 29.7L336.2 29.9L336.4 30.1L336.6 30.2L336.8 30.2L337.0 30.1L337.2 30.0L337.4 29.8L337.6 29.6L337.8 29.4L338.0 29.2L338.2 29.1L338.4 28.9L338.6 28.9L338.8 28.9L339.0 29.0L339.2 29.1L339.4 29.3L339.6 29.5L339.8 29.7L340.0 29.9L340.2 30.0L340.4 30.0L340.6 29.9L340.8 29.8L341.0 29.6L341.2 29.4L341.4 29.2L341.6 29.0L341.8 28.9L341.9 28.8L342.1 28.7L342.3 28.7L342.5 28.8L342.7 28.9L342.9 29.1L343.1 29.3L343.2 29.5L343.4 29.7L343.6 29.8L343.8 29.8L344.0 29.7L344.1 29.6L344.3 29.4L344.5 29.2L344.7 29.1L344.9 28.9L345.0 28.7L345.2 28.6L345.4 28.6L345.6 28.6L345.7 28.6L345.9 28.8L346.1 29.0L346.3 29.2L346.4 29.3L346.6 29.5L346.8 29.6L346.9 29.6L347.1 29.5L347.3 29.4L347.5 29.3L347.6 29.1L347.8 28.9L348.0 28.7L348.1 28.6L348.3 28.5L348.5 28.4L348.6 28.4L348.8 28.5L348.9 28.6L349.1 28.8L349.3 29.0L349.4 29.2L349.6 29.3L349.8 29.4L349.9 29.4L350.1 29.3L350.2 29.2L350.4 29.1L350.5 28.9L350.7 28.7L350.9 28.6L351.0 28.4L351.2 28.3L351.3 28.3L351.5 28.3L351.6 28.4L351.8 28.5L351.9 28.7L352.1 28.8L352.3 29.0L352.4 29.1L352.6 29.2L352.7 29.2L352.9 29.2L353.0 29.1L353.2 28.9L353.3 28.8L353.5 28.6L353.6 28.4L353.8 28.3L353.9 28.2L354.1 28.2L354.2 28.2L354.3 28.2L354.5 28.3L354.6 28.5L354.8 28.7L354.9 28.9L355.1 29.0L355.2 29.1L355.4 29.1L355.5 29.0L355.6 28.9L355.8 28.8L355.9 28.6L356.1 28.5L356.2 28.3L356.3 28.2L356.5 28.1L356.6 28.0L356.8 28.0L356.9 28.1L357.0 28.2L357.2 28.4L357.3 28.5L357.5 28.7L357.6 28.8L357.7 28.9L357.9 28.9L358.0 28.8L358.1 28.7L358.3 28.6L358.4 28.5L358.5 28.3L358.7 28.2L358.8 28.0L358.9 28.0L359.1 27.9L359.2 27.9L359.3 28.0L359.5 28.1L359.6 28.2L359.7 28.4L359.9 28.5L360.0 28.7L360.1 28.7L360.3 28.7L360.4 28.7L360.5 28.6L360.6 28.5L360.8 28.3L360.9 28.2L361.0 28.0L361.2 27.9L361.3 27.8L361.4 27.8L361.5 27.8L361.7 27.8L361.8 27.9L361.9 28.1L362.0 28.2L362.2 28.4L362.3 28.5L362.4 28.6L362.5 28.6L362.7 28.5L362.8 28.4L362.9 28.3L363.0 28.2L363.1 28.0L363.3 27.9L363.4 27.8L363.5 27.7L363.6 27.6L363.8 27.6L363.9 27.7L364.0 27.8L364.1 27.9L364.2 28.1L364.4 28.2L364.5 28.3L364.6 28.4L364.7 28.4L364.8 28.4L364.9 28.3L365.1 28.2L365.2 28.0L365.3 27.9L365.4 27.8L365.5 27.6L365.6 27.6L365.8 27.5L365.9 27.5L366.0 27.6L366.1 27.7L366.2 27.8L366.3 27.9L366.5 28.1L366.6 28.2L366.7 28.2L366.8 28.2L366.9 28.2L367.0 28.1L367.1 28.0L367.2 27.9L367.4 27.8L367.5 27.6L367.6 27.5L367.7 27.4L367.8 27.4L367.9 27.4L368.0 27.4L368.1 27.5L368.2 27.7L368.4 27.8L368.5 27.9L368.6 28.0L368.7 28.1L368.8 28.1L368.9 28.0L369.0 28.0L369.1 27.9L369.2 27.7L369.3 27.6L369.4 27.5L369.5 27.4L369.7 27.3L369.8 27.3L369.9 27.3L370.0 27.3L370.1 27.4L370.2 27.5L370.3 27.7L370.4 27.8L370.5 27.9L370.6 27.9L370.7 27.9L370.8 27.9L370.9 27.8L371.0 27.7L371.1 27.6L371.2 27.5L371.3 27.4L371.4 27.3L371.5 27.2L371.6 27.1L371.7 27.1L371.9 27.2L372.0 27.3L372.1 27.4L372.2 27.5L372.3 27.6L372.4 27.7L372.5 27.8L372.6 27.8L372.7 27.7L372.8 27.7L372.9 27.6L373.0 27.5L373.1 27.3L373.2 27.2L373.3 27.1L373.4 27.1L373.5 27.0L373.6 27.0L373.7 27.1L373.8 27.1L373.9 27.3L374.0 27.4L374.0 27.5L374.1 27.6L374.2 27.6L374.3 27.6L374.4 27.6L374.5 27.5L374.6 27.4L374.7 27.3L374.8 27.2L374.9 27.1L375.0 27.0L375.1 26.9L375.2 26.9L375.3 26.9L375.4 26.9L375.5 27.0L375.6 27.1L375.7 27.2L375.8 27.4L375.9 27.4L376.0 27.5L376.1 27.5L376.2 27.5L376.2 27.4L376.3 27.3L376.4 27.2L376.5 27.1L376.6 27.0L376.7 26.9L376.8 26.8L376.9 26.8L377.0 26.8L377.1 26.8L377.2 26.9L377.3 27.0L377.4 27.1L377.4 27.2L377.5 27.3L377.6 27.3L377.7 27.4L377.8 27.3L377.9 27.2L378.0 27.2L378.1 27.1L378.2 26.9L378.3 26.8L378.4 26.8L378.4 26.7L378.5 26.7L378.6 26.7L378.7 26.7L378.8 26.8L378.9 26.9L379.0 27.0L379.1 27.1L379.1 27.2L379.2 27.2L379.3 27.2L379.4 27.2L379.5 27.1L379.6 27.0L379.7 26.9L379.8 26.8L379.8 26.7L379.9 26.6L380.0 26.6L380.1 26.5L380.2 26.5L380.3 26.6L380.4 26.7L380.5 26.7L380.5 26.9L380.6 26.9" stroke="#878eab"/>
<path d="M42.2 228.6L380.6 160.5" stroke="#1a1a1a" stroke-width="1.1" stroke-dasharray="10.4 6.45" stroke-dashoffset="-8.7"/>
</g>
<g clip-path="url(#cb)" fill="none" stroke-linejoin="round" stroke-width="1.35">
<path d="M459.6 372.1L461.0 369.8L462.3 367.5L463.7 365.3L465.1 363.0L466.5 360.7L467.8 358.5L469.2 356.2L470.6 353.9L471.9 351.7L473.3 349.4L474.7 347.1L476.1 344.9L477.4 342.6L478.8 340.4L480.2 338.1L481.5 335.9L482.9 333.6L484.3 331.4L485.7 329.1L487.0 326.9L488.4 324.7L489.8 322.4L491.1 320.2L492.5 318.0L493.9 315.7L495.2 313.5L496.6 311.3L498.0 309.0L499.4 306.8L500.7 304.6L502.1 302.4L503.5 300.1L504.8 297.9L506.2 295.7L507.6 293.5L509.0 291.3L510.3 289.0L511.7 286.8L513.1 284.6L514.4 282.4L515.8 280.2L517.2 278.0L518.6 275.8L519.9 273.6L521.3 271.4L522.7 269.2L524.0 267.0L525.4 264.8L526.8 262.6L528.2 260.4L529.5 258.2L530.9 256.0L532.3 253.8L533.6 251.6L535.0 249.4L536.4 247.2L537.8 245.0L539.1 242.8L540.5 240.6L541.9 238.4L543.2 236.2L544.6 234.0L546.0 231.8L547.4 229.7L548.7 227.5L550.1 225.3L551.5 223.1L552.8 220.9L554.2 218.7L555.6 216.5L557.0 214.4L558.3 212.2L559.7 210.1L561.1 208.1L562.4 206.0L563.8 204.0L565.2 202.0L566.5 200.1L567.9 198.2L569.3 196.3L570.7 194.5L572.0 192.7L573.4 190.9L574.8 189.2L576.1 187.4L577.5 185.7L578.9 184.0L580.3 182.4L581.6 180.7L583.0 179.1L584.4 177.5L585.7 175.9L587.1 174.3L588.5 172.7L589.9 171.1L591.2 169.6L592.6 168.0L594.0 166.4L595.3 164.9L596.7 163.3L598.1 161.7L599.5 160.2L600.8 158.6L602.2 157.0L603.6 155.4L604.9 153.8L606.3 152.2L607.7 150.5L609.1 148.9L610.4 147.3L611.8 145.7L613.2 144.0L614.5 142.4L615.9 140.7L617.3 139.1L618.7 137.4L620.0 135.8L621.4 134.2L622.8 132.5L624.1 130.9L625.5 129.3L626.9 127.7L628.3 126.1L629.6 124.5L631.0 122.9L632.4 121.4L633.7 119.9L635.1 118.4L636.5 116.9L637.9 115.4L639.2 114.0L640.6 112.6L642.0 111.2L643.3 109.9L644.7 108.5L646.1 107.3L647.4 106.0L648.8 104.8L650.2 103.7L651.6 102.6L652.9 101.5L654.3 100.5L655.7 99.5L657.0 98.6L658.4 97.7L659.8 96.9L661.2 96.1L662.5 95.4L663.9 94.8L665.3 94.2L666.6 93.7L668.0 93.2L669.4 92.8L670.8 92.5L672.1 92.3L673.5 92.1L674.9 92.1L676.2 92.1L677.6 92.3L678.9 92.6L680.3 93.0L681.6 93.5L683.0 94.2L684.3 95.1L685.7 96.1L687.1 97.3L688.4 98.7L689.8 100.4L691.1 102.3L692.5 104.6L693.8 107.1L695.2 109.9L696.5 113.1L697.9 116.7L699.2 120.7L700.6 124.9L702.0 129.3L703.3 133.8L704.7 137.8L706.0 140.8L707.4 142.2L708.7 140.9L710.1 137.2L711.4 132.2L712.8 126.5L714.2 120.5L715.5 114.8L716.9 109.4L718.2 104.6L719.6 100.3L720.9 96.5L722.3 93.5L723.6 91.0L725.0 89.2L726.4 88.1L727.7 87.8L729.1 88.2L730.4 89.4L731.8 91.5L733.1 94.6L734.5 98.7L735.8 103.9L737.2 109.9L738.5 116.3L739.9 122.0L741.3 124.9L742.6 123.5L743.9 118.3L745.2 111.3L746.5 104.3L747.7 98.1L748.9 93.1L750.0 89.4L751.2 87.0L752.3 86.0L753.4 86.2L754.4 87.7L755.5 90.5L756.5 94.7L757.5 100.1L758.4 106.4L759.4 113.2L760.3 119.0L761.3 122.1L762.2 120.8L763.1 115.9L763.9 109.2L764.8 102.4L765.6 96.4L766.5 91.5L767.3 87.9L768.1 85.7L768.9 84.6L769.6 84.9L770.4 86.4L771.1 89.2L771.9 93.2L772.6 98.3L773.3 104.3L774.0 110.5L774.7 115.8L775.4 118.5L776.1 117.5L776.8 113.1L777.4 107.1L778.1 100.8L778.7 95.2L779.4 90.6L780.0 87.2L780.6 85.0L781.2 84.0L781.8 84.3L782.4 85.8L783.0 88.6L783.6 92.5L784.2 97.6L784.7 103.4L785.3 109.5L785.9 114.6L786.4 117.2L787.0 116.2L787.5 112.1L788.0 106.3L788.6 100.2L789.1 94.7L789.6 90.3L790.1 86.9L790.6 84.8L791.1 83.9L791.6 84.2L792.1 85.7L792.6 88.3L793.0 92.1L793.5 96.9L794.0 102.5L794.5 108.1L794.9 112.8L795.4 115.2L795.8 114.3L796.3 110.6L796.7 105.2L797.2 99.5L797.6 94.3L798.0 90.0L798.4 87.2" stroke="#ff1414"/>
<path d="M459.6 280.6L461.0 277.9L462.4 275.3L463.7 272.6L465.1 270.0L466.5 267.3L467.9 264.6L469.2 261.9L470.6 259.2L472.0 256.5L473.4 253.8L474.8 251.1L476.1 248.4L477.5 245.7L478.9 243.0L480.3 240.2L481.7 237.4L483.0 234.7L484.4 231.9L485.8 229.1L487.2 226.4L488.5 223.7L489.9 220.9L491.3 218.3L492.7 215.6L494.1 212.9L495.4 210.3L496.8 207.7L498.2 205.1L499.6 202.6L501.0 200.0L502.3 197.6L503.7 195.1L505.1 192.7L506.5 190.4L507.8 188.0L509.2 185.8L510.6 183.6L512.0 181.4L513.4 179.3L514.7 177.2L516.1 175.1L517.5 173.0L518.9 171.0L520.3 169.0L521.6 166.9L523.0 165.0L524.4 163.0L525.8 161.0L527.1 159.0L528.5 157.0L529.9 155.1L531.3 153.2L532.7 151.5L534.0 149.8L535.4 148.1L536.8 146.5L538.2 144.9L539.5 143.4L540.9 141.9L542.3 140.4L543.7 138.9L545.1 137.5L546.4 136.0L547.8 134.5L549.2 133.0L550.6 131.5L552.0 130.0L553.3 128.4L554.7 126.9L556.1 125.3L557.5 123.7L558.8 122.1L560.2 120.5L561.6 118.9L563.0 117.3L564.4 115.7L565.7 114.2L567.1 112.6L568.5 111.1L569.9 109.8L571.3 108.5L572.6 107.2L574.0 106.0L575.4 104.9L576.8 103.7L578.1 102.7L579.5 101.6L580.9 100.6L582.3 99.5L583.7 98.5L585.0 97.5L586.4 96.5L587.8 95.5L589.2 94.6L590.6 93.7L591.9 92.9L593.3 92.2L594.7 91.5L596.1 91.0L597.4 90.6L598.8 90.3L600.2 90.1L601.6 90.0L602.9 89.9L604.3 90.0L605.6 90.2L607.0 90.5L608.3 91.0L609.7 91.6L611.0 92.4L612.4 93.4L613.8 94.5L615.1 95.9L616.5 97.4L617.8 99.1L619.2 101.0L620.5 102.9L621.9 104.9L623.2 106.9L624.6 108.7L625.9 110.2L627.3 111.1L628.7 111.5L630.0 110.3L631.4 108.2L632.7 105.7L634.1 102.8L635.4 99.7L636.8 96.6L638.1 93.6L639.5 90.6L640.9 87.8L642.2 85.3L643.6 83.0L644.9 81.0L646.3 79.3L647.6 78.0L649.0 77.1L650.3 76.7L651.7 76.9L653.1 77.7L654.4 79.0L655.8 80.8L657.1 82.9L658.5 85.1L659.8 87.0L661.2 88.1L662.5 88.0L663.9 86.8L665.2 84.7L666.5 82.0L667.7 79.3L668.9 76.5L670.1 74.1L671.3 72.0L672.4 70.3L673.5 69.2L674.6 68.8L675.6 69.0L676.7 70.0L677.7 71.4L678.7 73.3L679.7 75.3L680.6 76.9L681.6 77.9L682.5 78.1L683.4 77.3L684.3 75.9L685.1 74.1L686.0 72.1L686.8 70.0L687.6 68.1L688.5 66.5L689.3 65.2L690.0 64.4L690.8 64.2L691.6 64.4L692.3 65.3L693.1 66.7L693.8 68.4L694.5 70.1L695.2 71.6L695.9 72.5L696.6 72.7L697.3 72.3L697.9 71.2L698.6 69.8L699.3 68.1L699.9 66.4L700.5 64.8L701.2 63.4L701.8 62.4L702.4 61.7L703.0 61.5L703.6 61.9L704.2 62.7L704.8 64.0L705.3 65.7L705.9 67.3L706.5 68.8L707.0 69.8L707.6 70.2L708.1 69.9L708.6 69.0L709.2 67.7L709.7 66.2L710.2 64.7L710.7 63.2L711.2 61.9L711.7 60.9L712.2 60.3L712.7 60.2L713.2 60.6L713.7 61.6L714.2 63.0L714.7 64.8L715.1 66.6L715.6 68.3L716.1 69.4L716.5 69.8L717.0 69.5L717.4 68.6L717.9 67.3L718.3 65.8L718.7 64.2L719.2 62.7L719.6 61.5L720.0 60.5L720.4 59.9L720.9 59.8L721.3 60.3L721.7 61.3L722.1 62.7L722.5 64.5L722.9 66.3L723.3 67.8L723.7 68.9L724.1 69.3L724.5 69.0L724.9 68.2L725.2 66.9L725.6 65.5L726.0 64.0L726.4 62.6L726.7 61.4L727.1 60.5L727.5 59.9L727.8 59.8L728.2 60.3L728.5 61.2L728.9 62.6L729.3 64.3L729.6 66.0L729.9 67.5L730.3 68.5L730.6 68.8L731.0 68.6L731.3 67.8L731.6 66.6L732.0 65.2L732.3 63.8L732.6 62.5L733.0 61.3L733.3 60.4L733.6 59.9L733.9 59.8L734.2 60.2L734.6 61.1L734.9 62.5L735.2 64.1L735.5 65.7L735.8 67.1L736.1 68.1L736.4 68.5L736.7 68.2L737.0 67.5L737.3 66.3L737.6 65.0L737.9 63.7L738.2 62.4L738.5 61.3L738.8 60.4L739.1 59.9L739.4 59.8L739.6 60.2L739.9 61.1L740.2 62.4L740.5 64.0L740.8 65.6L741.0 67.0L741.3 67.9L741.6 68.2L741.9 68.0L742.1 67.3L742.4 66.2L742.7 64.9L742.9 63.6L743.2 62.4L743.5 61.3L743.7 60.4L744.0 59.9L744.2 59.9L744.5 60.3L744.8 61.1L745.0 62.4L745.3 63.9L745.5 65.5L745.8 66.9L746.0 67.8L746.3 68.1L746.5 67.9L746.8 67.2L747.0 66.1L747.2 64.9L747.5 63.6L747.7 62.4L748.0 61.3L748.2 60.5L748.4 60.0L748.7 59.9L748.9 60.3L749.1 61.2L749.4 62.4L749.6 63.9L749.8 65.5L750.1 66.8L750.3 67.7L750.5 68.0L750.8 67.8L751.0 67.1L751.2 66.1L751.4 64.9L751.7 63.6L751.9 62.3L752.1 61.3L752.3 60.4L752.5 60.0L752.8 59.9L753.0 60.3L753.2 61.1L753.4 62.3L753.6 63.8L753.8 65.4L754.0 66.7L754.2 67.6L754.5 68.0L754.7 67.7L754.9 67.0L755.1 66.0L755.3 64.7L755.5 63.5L755.7 62.2L755.9 61.1L756.1 60.3L756.3 59.8L756.5 59.7L756.7 60.1L756.9 60.9L757.1 62.2L757.3 63.7L757.5 65.3L757.7 66.6L757.9 67.5L758.1 67.9L758.3 67.6L758.5 66.9L758.7 65.9L758.9 64.6L759.1 63.3L759.2 62.0L759.4 61.0L759.6 60.1L759.8 59.6L760.0 59.5L760.2 59.9L760.4 60.8L760.6 62.0L760.7 63.5L760.9 65.1L761.1 66.5L761.3 67.4L761.5 67.7L761.7 67.5L761.8 66.8L762.0 65.7L762.2 64.4L762.4 63.1L762.6 61.9L762.7 60.8L762.9 59.9L763.1 59.4L763.3 59.3L763.4 59.7L763.6 60.5L763.8 61.8L764.0 63.3L764.1 64.9L764.3 66.2L764.5 67.2L764.6 67.5L764.8 67.3L765.0 66.5L765.2 65.5L765.3 64.2L765.5 62.9L765.7 61.6L765.8 60.5L766.0 59.6L766.2 59.1L766.3 59.0L766.5 59.4L766.6 60.3L766.8 61.5L767.0 63.1L767.1 64.6L767.3 66.0L767.5 66.9L767.6 67.2L767.8 67.0L767.9 66.3L768.1 65.2L768.3 63.9L768.4 62.6L768.6 61.3L768.7 60.2L768.9 59.4L769.0 58.8L769.2 58.8L769.4 59.1L769.5 60.0L769.7 61.2L769.8 62.8L770.0 64.3L770.1 65.7L770.3 66.6L770.4 66.9L770.6 66.7L770.7 66.0L770.9 64.9L771.0 63.6L771.2 62.3L771.3 61.0L771.5 59.9L771.6 59.1L771.8 58.6L771.9 58.5L772.1 58.8L772.2 59.7L772.4 60.9L772.5 62.5L772.6 64.0L772.8 65.4L772.9 66.3L773.1 66.6L773.2 66.4L773.4 65.7L773.5 64.6L773.6 63.3L773.8 62.0L773.9 60.7L774.1 59.6L774.2 58.8L774.4 58.3L774.5 58.2L774.6 58.6L774.8 59.4L774.9 60.7L775.0 62.2L775.2 63.7L775.3 65.1L775.5 66.0L775.6 66.3L775.7 66.1L775.9 65.4L776.0 64.3L776.1 63.0L776.3 61.7L776.4 60.5L776.5 59.4L776.7 58.5L776.8 58.0L776.9 57.9L777.1 58.3L777.2 59.2L777.3 60.4L777.5 61.9L777.6 63.5L777.7 64.8L777.9 65.7L778.0 66.1L778.1 65.9L778.2 65.1L778.4 64.1L778.5 62.8L778.6 61.5L778.8 60.2L778.9 59.1L779.0 58.3L779.1 57.8L779.3 57.7L779.4 58.1L779.5 58.9L779.6 60.2L779.8 61.7L779.9 63.3L780.0 64.6L780.1 65.5L780.3 65.9L780.4 65.6L780.5 64.9L780.6 63.8L780.8 62.6L780.9 61.3L781.0 60.0L781.1 58.9L781.3 58.1L781.4 57.6L781.5 57.5L781.6 57.9L781.7 58.7L781.9 60.0L782.0 61.5L782.1 63.1L782.2 64.4L782.3 65.3L782.5 65.7L782.6 65.4L782.7 64.7L782.8 63.7L782.9 62.4L783.0 61.1L783.2 59.8L783.3 58.7L783.4 57.9L783.5 57.4L783.6 57.3L783.7 57.7L783.9 58.5L784.0 59.8L784.1 61.3L784.2 62.9L784.3 64.2L784.4 65.1L784.5 65.5L784.7 65.3L784.8 64.5L784.9 63.5L785.0 62.2L785.1 60.9L785.2 59.6L785.3 58.5L785.4 57.7L785.6 57.2L785.7 57.1L785.8 57.5L785.9 58.4L786.0 59.6L786.1 61.1L786.2 62.7L786.3 64.0L786.4 65.0L786.5 65.3L786.7 65.1L786.8 64.4L786.9 63.3L787.0 62.0L787.1 60.7L787.2 59.5L787.3 58.4L787.4 57.5L787.5 57.0L787.6 56.9L787.7 57.3L787.8 58.2L787.9 59.4L788.0 61.0L788.1 62.5L788.3 63.9L788.4 64.8L788.5 65.1L788.6 64.9L788.7 64.2L788.8 63.1L788.9 61.9L789.0 60.6L789.1 59.3L789.2 58.2L789.3 57.4L789.4 56.9L789.5 56.8L789.6 57.2L789.7 58.0L789.8 59.3L789.9 60.8L790.0 62.4L790.1 63.7L790.2 64.6L790.3 65.0L790.4 64.8L790.5 64.0L790.6 63.0L790.7 61.7L790.8 60.4L790.9 59.1L791.0 58.0L791.1 57.2L791.2 56.7L791.3 56.6L791.4 57.0L791.5 57.9L791.6 59.1L791.7 60.6L791.8 62.2L791.9 63.6L792.0 64.5L792.1 64.8L792.2 64.6L792.3 63.9L792.4 62.8L792.5 61.6L792.6 60.2L792.7 59.0L792.8 57.9L792.9 57.1L793.0 56.6L793.1 56.5L793.2 56.9L793.3 57.7L793.4 59.0L793.4 60.5L793.5 62.1L793.6 63.4L793.7 64.3L793.8 64.7L793.9 64.5L794.0 63.7L794.1 62.7L794.2 61.4L794.3 60.1L794.4 58.8L794.5 57.8L794.6 56.9L794.7 56.4L794.8 56.3L794.8 56.7L794.9 57.6L795.0 58.8L795.1 60.4L795.2 61.9L795.3 63.3L795.4 64.2L795.5 64.5L795.6 64.3L795.7 63.6L795.8 62.5L795.8 61.3L795.9 60.0L796.0 58.7L796.1 57.6L796.2 56.8L796.3 56.3L796.4 56.2L796.5 56.6L796.6 57.4L796.7 58.7L796.7 60.2L796.8 61.8L796.9 63.1L797.0 64.1L797.1 64.4L797.2 64.2L797.3 63.5L797.4 62.4L797.4 61.1L797.5 59.8L797.6 58.6L797.7 57.5L797.8 56.6L797.9 56.1L798.0 56.1L798.1 56.4L798.1 57.3L798.2 58.6L798.3 60.1L798.4 61.7L798.4 61.7" stroke="#1818ff"/>
<path d="M459.6 244.7L461.0 241.3L462.4 238.0L463.8 234.8L465.1 231.5L466.5 228.3L467.9 225.2L469.3 222.1L470.7 219.0L472.1 215.9L473.5 213.0L474.8 210.0L476.2 207.1L477.6 204.2L479.0 201.3L480.4 198.5L481.8 195.7L483.1 192.9L484.5 190.1L485.9 187.4L487.3 184.7L488.7 182.0L490.1 179.4L491.5 176.7L492.8 174.1L494.2 171.5L495.6 168.9L497.0 166.4L498.4 163.8L499.8 161.3L501.2 158.8L502.5 156.3L503.9 153.9L505.3 151.5L506.7 149.1L508.1 146.7L509.5 144.4L510.9 142.1L512.2 139.9L513.6 137.7L515.0 135.5L516.4 133.4L517.8 131.4L519.2 129.5L520.5 127.5L521.9 125.7L523.3 123.9L524.7 122.1L526.1 120.4L527.5 118.8L528.9 117.2L530.2 115.7L531.6 114.2L533.0 112.8L534.4 111.4L535.8 110.1L537.2 108.8L538.6 107.6L539.9 106.4L541.3 105.3L542.7 104.2L544.1 103.1L545.5 102.1L546.9 101.2L548.3 100.3L549.6 99.4L551.0 98.6L552.4 97.8L553.8 97.1L555.2 96.4L556.6 95.7L557.9 95.1L559.3 94.5L560.7 94.0L562.1 93.5L563.5 93.0L564.9 92.6L566.3 92.2L567.6 91.9L569.0 91.5L570.4 91.3L571.8 91.0L573.2 91.0L574.5 91.1L575.9 91.3L577.2 91.8L578.6 92.4L579.9 93.2L581.3 94.2L582.6 95.4L584.0 96.8L585.4 98.3L586.7 99.9L588.1 101.6L589.4 103.1L590.8 104.5L592.1 105.7L593.5 106.4L594.8 106.6L596.2 105.6L597.5 103.7L598.9 101.6L600.3 99.2L601.6 96.7L603.0 94.1L604.3 91.6L605.7 89.1L607.0 86.7L608.4 84.4L609.7 82.3L611.1 80.3L612.5 78.5L613.8 76.9L615.2 75.7L616.5 75.0L617.9 74.7L619.2 75.1L620.6 76.0L621.9 77.4L623.3 79.2L624.7 81.0L626.0 82.3L627.4 82.8L628.7 82.4L630.1 81.0L631.4 79.2L632.6 77.0L633.9 74.9L635.1 72.7L636.3 70.8L637.4 68.9L638.6 67.4L639.7 66.2L640.7 65.4L641.8 65.2L642.8 65.6L643.8 66.5L644.8 67.7L645.8 68.9L646.7 69.8L647.7 70.1L648.6 69.9L649.5 69.1L650.4 68.0L651.2 66.7L652.1 65.3L652.9 63.9L653.8 62.5L654.6 61.2L655.4 60.1L656.1 59.2L656.9 58.6L657.7 58.5L658.4 58.8L659.2 59.5L659.9 60.5L660.6 61.5L661.3 62.3L662.0 62.6L662.7 62.5L663.4 61.9L664.0 61.0L664.7 60.0L665.3 58.8L666.0 57.6L666.6 56.5L667.2 55.4L667.9 54.4L668.5 53.7L669.1 53.2L669.7 53.1L670.3 53.4L670.8 54.1L671.4 54.9L672.0 55.8L672.5 56.5L673.1 56.8L673.6 56.7L674.2 56.2L674.7 55.5L675.2 54.7L675.8 53.7L676.3 52.8L676.8 51.8L677.3 50.9L677.8 50.1L678.3 49.5L678.8 49.1L679.3 49.0L679.8 49.3L680.3 49.9L680.7 50.7L681.2 51.5L681.7 52.0L682.1 52.3L682.6 52.3L683.0 51.9L683.5 51.4L683.9 50.7L684.4 49.9L684.8 49.1L685.2 48.4L685.7 47.6L686.1 47.0L686.5 46.5L686.9 46.2L687.3 46.2L687.7 46.4L688.1 47.0L688.6 47.7L689.0 48.4L689.3 49.0L689.7 49.3L690.1 49.3L690.5 49.0L690.9 48.5L691.3 47.9L691.7 47.3L692.0 46.5L692.4 45.8L692.8 45.1L693.2 44.5L693.5 44.0L693.9 43.8L694.2 43.8L694.6 44.1L694.9 44.7L695.3 45.4L695.6 46.1L696.0 46.7L696.3 47.0L696.7 47.0L697.0 46.8L697.4 46.4L697.7 45.8L698.0 45.2L698.4 44.5L698.7 43.9L699.0 43.3L699.3 42.8L699.7 42.4L700.0 42.1L700.3 42.2L700.6 42.5L700.9 43.0L701.2 43.6L701.5 44.3L701.8 44.8L702.2 45.0L702.5 45.0L702.8 44.8L703.1 44.4L703.4 43.9L703.7 43.4L703.9 42.9L704.2 42.4L704.5 41.9L704.8 41.5L705.1 41.2L705.4 41.0L705.7 41.0L706.0 41.3L706.2 41.7L706.5 42.2L706.8 42.7L707.1 43.0L707.4 43.2L707.6 43.2L707.9 43.1L708.2 42.8L708.4 42.5L708.7 42.1L709.0 41.6L709.2 41.2L709.5 40.8L709.8 40.5L710.0 40.2L710.3 40.0L710.5 40.1L710.8 40.3L711.0 40.7L711.3 41.1L711.5 41.6L711.8 42.0L712.0 42.2L712.3 42.3L712.5 42.1L712.8 41.9L713.0 41.6L713.3 41.2L713.5 40.8L713.8 40.4L714.0 40.0L714.2 39.6L714.5 39.3L714.7 39.2L714.9 39.2L715.2 39.4L715.4 39.9L715.6 40.4L715.9 40.9L716.1 41.3L716.3 41.5L716.6 41.6L716.8 41.5L717.0 41.2L717.2 40.9L717.5 40.5L717.7 40.1L717.9 39.7L718.1 39.2L718.3 38.9L718.6 38.6L718.8 38.5L719.0 38.5L719.2 38.8L719.4 39.2L719.6 39.7L719.9 40.3L720.1 40.7L720.3 41.0L720.5 41.0L720.7 40.9L720.9 40.7L721.1 40.3L721.3 39.9L721.5 39.5L721.7 39.1L721.9 38.7L722.1 38.3L722.3 38.1L722.5 37.9L722.7 38.0L722.9 38.3L723.1 38.7L723.3 39.2L723.5 39.8L723.7 40.2L723.9 40.4L724.1 40.5L724.3 40.4L724.5 40.1L724.7 39.8L724.9 39.4L725.1 39.0L725.3 38.6L725.5 38.2L725.7 37.9L725.8 37.6L726.0 37.5L726.2 37.5L726.4 37.8L726.6 38.2L726.8 38.7L727.0 39.3L727.1 39.7L727.3 40.0L727.5 40.0L727.7 39.9L727.9 39.7L728.0 39.3L728.2 39.0L728.4 38.6L728.6 38.2L728.8 37.8L728.9 37.4L729.1 37.2L729.3 37.0L729.5 37.1L729.6 37.4L729.8 37.8L730.0 38.3L730.2 38.9L730.3 39.3L730.5 39.5L730.7 39.6L730.8 39.5L731.0 39.3L731.2 38.9L731.3 38.6L731.5 38.2L731.7 37.8L731.8 37.4L732.0 37.1L732.2 36.8L732.3 36.7L732.5 36.8L732.7 37.0L732.8 37.4L733.0 38.0L733.2 38.5L733.3 38.9L733.5 39.2L733.6 39.2L733.8 39.1L734.0 38.9L734.1 38.6L734.3 38.2L734.4 37.9L734.6 37.5L734.8 37.1L734.9 36.8L735.1 36.5L735.2 36.4L735.4 36.5L735.5 36.7L735.7 37.2L735.8 37.7L736.0 38.2L736.1 38.6L736.3 38.9L736.4 39.0L736.6 38.9L736.8 38.6L736.9 38.3L737.1 38.0L737.2 37.6L737.3 37.2L737.5 36.9L737.6 36.6L737.8 36.3L737.9 36.2L738.1 36.3L738.2 36.5L738.4 37.0L738.5 37.5L738.7 38.0L738.8 38.4L739.0 38.7L739.1 38.8L739.2 38.7L739.4 38.5L739.5 38.2L739.7 37.8L739.8 37.4L740.0 37.1L740.1 36.7L740.2 36.4L740.4 36.2L740.5 36.1L740.7 36.2L740.8 36.4L740.9 36.8L741.1 37.3L741.2 37.9L741.3 38.3L741.5 38.5L741.6 38.6L741.8 38.5L741.9 38.3L742.0 38.0L742.2 37.7L742.3 37.3L742.4 37.0L742.6 36.6L742.7 36.3L742.8 36.1L743.0 36.0L743.1 36.1L743.2 36.3L743.4 36.7L743.5 37.3L743.6 37.8L743.7 38.2L743.9 38.4L744.0 38.5L744.1 38.4L744.3 38.2L744.4 37.9L744.5 37.6L744.7 37.3L744.8 36.9L744.9 36.6L745.0 36.3L745.2 36.0L745.3 35.9L745.4 36.0L745.5 36.3L745.7 36.7L745.8 37.2L745.9 37.7L746.0 38.1L746.2 38.4L746.3 38.4L746.4 38.4L746.5 38.2L746.7 37.9L746.8 37.5L746.9 37.2L747.0 36.8L747.1 36.5L747.3 36.2L747.4 36.0L747.5 35.9L747.6 36.0L747.8 36.2L747.9 36.6L748.0 37.1L748.1 37.6L748.2 38.0L748.4 38.3L748.5 38.4L748.6 38.3L748.7 38.1L748.8 37.8L748.9 37.5L749.1 37.1L749.2 36.8L749.3 36.4L749.4 36.1L749.5 35.9L749.6 35.8L749.8 35.9L749.9 36.1L750.0 36.5L750.1 37.0L750.2 37.5L750.3 38.0L750.4 38.2L750.6 38.3L750.7 38.2L750.8 38.0L750.9 37.7L751.0 37.4L751.1 37.0L751.2 36.7L751.3 36.3L751.5 36.0L751.6 35.8L751.7 35.7L751.8 35.8L751.9 36.0L752.0 36.4L752.1 37.0L752.2 37.5L752.3 37.9L752.4 38.1L752.6 38.2L752.7 38.1L752.8 37.9L752.9 37.6L753.0 37.3L753.1 36.9L753.2 36.6L753.3 36.2L753.4 35.9L753.5 35.7L753.6 35.6L753.7 35.7L753.8 35.9L754.0 36.3L754.1 36.8L754.2 37.3L754.3 37.8L754.4 38.0L754.5 38.1L754.6 38.0L754.7 37.8L754.8 37.5L754.9 37.2L755.0 36.8L755.1 36.5L755.2 36.1L755.3 35.8L755.4 35.6L755.5 35.5L755.6 35.6L755.7 35.8L755.8 36.2L755.9 36.7L756.0 37.2L756.1 37.7L756.2 37.9L756.3 38.0L756.4 37.9L756.5 37.7L756.6 37.4L756.7 37.1L756.8 36.7L756.9 36.4L757.0 36.0L757.1 35.7L757.2 35.5L757.3 35.4L757.4 35.4L757.5 35.7L757.6 36.1L757.7 36.6L757.8 37.1L757.9 37.6L758.0 37.8L758.1 37.9L758.2 37.8L758.3 37.6L758.4 37.3L758.5 37.0L758.6 36.6L758.7 36.2L758.8 35.9L758.9 35.6L759.0 35.4L759.1 35.3L759.2 35.3L759.3 35.6L759.4 36.0L759.5 36.5L759.6 37.0L759.6 37.5L759.7 37.7L759.8 37.8L759.9 37.7L760.0 37.5L760.1 37.2L760.2 36.9L760.3 36.5L760.4 36.2L760.5 35.8L760.6 35.5L760.7 35.3L760.8 35.2L760.9 35.2L761.0 35.5L761.0 35.9L761.1 36.4L761.2 37.0L761.3 37.4L761.4 37.6L761.5 37.7L761.6 37.6L761.7 37.4L761.8 37.1L761.9 36.8L762.0 36.4L762.0 36.1L762.1 35.7L762.2 35.4L762.3 35.2L762.4 35.1L762.5 35.1L762.6 35.4L762.7 35.8L762.8 36.4L762.8 36.9L762.9 37.3L763.0 37.6L763.1 37.6L763.2 37.6L763.3 37.3L763.4 37.1L763.5 36.7L763.5 36.4L763.6 36.0L763.7 35.6L763.8 35.3L763.9 35.1L764.0 35.0L764.1 35.0L764.2 35.3L764.2 35.7L764.3 36.3L764.4 36.8L764.5 37.2L764.6 37.5L764.7 37.6L764.8 37.5L764.8 37.3L764.9 37.0L765.0 36.6L765.1 36.3L765.2 35.9L765.3 35.5L765.3 35.2L765.4 35.0L765.5 34.9L765.6 35.0L765.7 35.2L765.8 35.7L765.8 36.2L765.9 36.7L766.0 37.1L766.1 37.4L766.2 37.5L766.3 37.4L766.3 37.2L766.4 36.9L766.5 36.6L766.6 36.2L766.7 35.8L766.7 35.5L766.8 35.1L766.9 34.9L767.0 34.8L767.1 34.9L767.2 35.1L767.2 35.6L767.3 36.1L767.4 36.6L767.5 37.1L767.6 37.3L767.6 37.4L767.7 37.3L767.8 37.1L767.9 36.8L768.0 36.5L768.0 36.1L768.1 35.7L768.2 35.4L768.3 35.1L768.4 34.8L768.4 34.7L768.5 34.8L768.6 35.1L768.7 35.5L768.7 36.0L768.8 36.6L768.9 37.0L769.0 37.3L769.1 37.4L769.1 37.3L769.2 37.1L769.3 36.8L769.4 36.4L769.4 36.0L769.5 35.7L769.6 35.3L769.7 35.0L769.8 34.8L769.8 34.7L769.9 34.7L770.0 35.0L770.1 35.4L770.1 36.0L770.2 36.5L770.3 36.9L770.4 37.2L770.4 37.3L770.5 37.2L770.6 37.0L770.7 36.7L770.7 36.3L770.8 36.0L770.9 35.6L771.0 35.2L771.0 34.9L771.1 34.7L771.2 34.6L771.3 34.7L771.3 34.9L771.4 35.4L771.5 35.9L771.6 36.4L771.6 36.9L771.7 37.1L771.8 37.2L771.9 37.1L771.9 36.9L772.0 36.6L772.1 36.3L772.2 35.9L772.2 35.5L772.3 35.2L772.4 34.8L772.4 34.6L772.5 34.5L772.6 34.6L772.7 34.9L772.7 35.3L772.8 35.8L772.9 36.4L773.0 36.8L773.0 37.1L773.1 37.2L773.2 37.1L773.2 36.9L773.3 36.6L773.4 36.2L773.5 35.8L773.5 35.5L773.6 35.1L773.7 34.8L773.7 34.5L773.8 34.4L773.9 34.5L773.9 34.8L774.0 35.2L774.1 35.8L774.2 36.3L774.2 36.7L774.3 37.0L774.4 37.1L774.4 37.0L774.5 36.8L774.6 36.5L774.6 36.1L774.7 35.8L774.8 35.4L774.9 35.0L774.9 34.7L775.0 34.5L775.1 34.4L775.1 34.4L775.2 34.7L775.3 35.2L775.3 35.7L775.4 36.2L775.5 36.7L775.5 36.9L775.6 37.0L775.7 36.9L775.7 36.7L775.8 36.4L775.9 36.1L775.9 35.7L776.0 35.3L776.1 35.0L776.2 34.6L776.2 34.4L776.3 34.3L776.4 34.4L776.4 34.6L776.5 35.1L776.6 35.6L776.6 36.2L776.7 36.6L776.8 36.9L776.8 37.0L776.9 36.9L777.0 36.7L777.0 36.4L777.1 36.0L777.2 35.6L777.2 35.3L777.3 34.9L777.3 34.6L777.4 34.3L777.5 34.2L777.5 34.3L777.6 34.6L777.7 35.0L777.7 35.6L777.8 36.1L777.9 36.5L777.9 36.8L778.0 36.9L778.1 36.8L778.1 36.6L778.2 36.3L778.3 36.0L778.3 35.6L778.4 35.2L778.5 34.8L778.5 34.5L778.6 34.3L778.6 34.2L778.7 34.3L778.8 34.5L778.8 35.0L778.9 35.5L779.0 36.0L779.0 36.5L779.1 36.8L779.2 36.8L779.2 36.8L779.3 36.5L779.3 36.2L779.4 35.9L779.5 35.5L779.5 35.1L779.6 34.8L779.7 34.4L779.7 34.2L779.8 34.1L779.8 34.2L779.9 34.5L780.0 34.9L780.0 35.4L780.1 36.0L780.2 36.4L780.2 36.7L780.3 36.8L780.3 36.7L780.4 36.5L780.5 36.2L780.5 35.8L780.6 35.5L780.7 35.1L780.7 34.7L780.8 34.4L780.8 34.2L780.9 34.1L781.0 34.1L781.0 34.4L781.1 34.8L781.1 35.4L781.2 35.9L781.3 36.4L781.3 36.6L781.4 36.7L781.4 36.6L781.5 36.4L781.6 36.1L781.6 35.8L781.7 35.4L781.7 35.0L781.8 34.6L781.9 34.3L781.9 34.1L782.0 34.0L782.0 34.1L782.1 34.3L782.2 34.8L782.2 35.3L782.3 35.9L782.3 36.3L782.4 36.6L782.5 36.7L782.5 36.6L782.6 36.4L782.6 36.1L782.7 35.7L782.8 35.3L782.8 35.0L782.9 34.6L782.9 34.3L783.0 34.0L783.1 33.9L783.1 34.0L783.2 34.3L783.2 34.7L783.3 35.3L783.3 35.8L783.4 36.3L783.5 36.5L783.5 36.6L783.6 36.5L783.6 36.3L783.7 36.0L783.8 35.7L783.8 35.3L783.9 34.9L783.9 34.5L784.0 34.2L784.0 34.0L784.1 33.9L784.2 34.0L784.2 34.2L784.3 34.7L784.3 35.2L784.4 35.8L784.4 36.2L784.5 36.5L784.6 36.6L784.6 36.5L784.7 36.3L784.7 36.0L784.8 35.6L784.8 35.2L784.9 34.8L784.9 34.5L785.0 34.2L785.1 33.9L785.1 33.8L785.2 33.9L785.2 34.2L785.3 34.6L785.3 35.2L785.4 35.7L785.5 36.1L785.5 36.4L785.6 36.5L785.6 36.4L785.7 36.2L785.7 35.9L785.8 35.6L785.8 35.2L785.9 34.8L786.0 34.4L786.0 34.1L786.1 33.9L786.1 33.8L786.2 33.8L786.2 34.1L786.3 34.6L786.3 35.1L786.4 35.7L786.4 36.1L786.5 36.4L786.6 36.5L786.6 36.4L786.7 36.2L786.7 35.8L786.8 35.5L786.8 35.1L786.9 34.7L786.9 34.4L787.0 34.0L787.0 33.8L787.1 33.7L787.1 33.8L787.2 34.1L787.3 34.5L787.3 35.1L787.4 35.6L787.4 36.0L787.5 36.3L787.5 36.4L787.6 36.3L787.6 36.1L787.7 35.8L787.7 35.4L787.8 35.1L787.8 34.7L787.9 34.3L788.0 34.0L788.0 33.8L788.1 33.7L788.1 33.7L788.2 34.0L788.2 34.5L788.3 35.0L788.3 35.5L788.4 36.0L788.4 36.3L788.5 36.3L788.5 36.3L788.6 36.0L788.6 35.7L788.7 35.4L788.7 35.0L788.8 34.6L788.8 34.3L788.9 33.9L788.9 33.7L789.0 33.6L789.1 33.7L789.1 34.0L789.2 34.4L789.2 35.0L789.3 35.5L789.3 35.9L789.4 36.2L789.4 36.3L789.5 36.2L789.5 36.0L789.6 35.7L789.6 35.3L789.7 35.0L789.7 34.6L789.8 34.2L789.8 33.9L789.9 33.7L789.9 33.6L790.0 33.6L790.0 33.9L790.1 34.4L790.1 34.9L790.2 35.4L790.2 35.9L790.3 36.2L790.3 36.2L790.4 36.2L790.4 35.9L790.5 35.6L790.5 35.3L790.6 34.9L790.6 34.5L790.7 34.2L790.7 33.8L790.8 33.6L790.8 33.5L790.9 33.6L790.9 33.9L791.0 34.3L791.0 34.9L791.1 35.4L791.1 35.8L791.2 36.1L791.2 36.2L791.3 36.1L791.3 35.9L791.4 35.6L791.4 35.2L791.5 34.9L791.5 34.5L791.6 34.1L791.6 33.8L791.7 33.6L791.7 33.5L791.8 33.5L791.8 33.8L791.9 34.3L791.9 34.8L792.0 35.3L792.0 35.8L792.1 36.1L792.1 36.2L792.2 36.1L792.2 35.8L792.3 35.5L792.3 35.2L792.4 34.8L792.4 34.4L792.5 34.1L792.5 33.7L792.5 33.5L792.6 33.4L792.6 33.5L792.7 33.8L792.7 34.2L792.8 34.8L792.8 35.3L792.9 35.7L792.9 36.0L793.0 36.1L793.0 36.0L793.1 35.8L793.1 35.5L793.2 35.2L793.2 34.8L793.3 34.4L793.3 34.0L793.4 33.7L793.4 33.5L793.5 33.4L793.5 33.4L793.6 33.7L793.6 34.2L793.6 34.7L793.7 35.3L793.7 35.7L793.8 36.0L793.8 36.1L793.9 36.0L793.9 35.8L794.0 35.5L794.0 35.1L794.1 34.7L794.1 34.3L794.2 34.0L794.2 33.7L794.3 33.4L794.3 33.3L794.3 33.4L794.4 33.7L794.4 34.1L794.5 34.7L794.5 35.2L794.6 35.7L794.6 35.9L794.7 36.0L794.7 35.9L794.8 35.7L794.8 35.4L794.9 35.1L794.9 34.7L794.9 34.3L795.0 33.9L795.0 33.6L795.1 33.4L795.1 33.3L795.2 33.4L795.2 33.6L795.3 34.1L795.3 34.6L795.4 35.2L795.4 35.6L795.5 35.9L795.5 36.0L795.5 35.9L795.6 35.7L795.6 35.4L795.7 35.0L795.7 34.6L795.8 34.3L795.8 33.9L795.9 33.6L795.9 33.3L795.9 33.2L796.0 33.3L796.0 33.6L796.1 34.0L796.1 34.6L796.2 35.1L796.2 35.6L796.3 35.8L796.3 35.9L796.4 35.8L796.4 35.6L796.4 35.3L796.5 35.0L796.5 34.6L796.6 34.2L796.6 33.8L796.7 33.5L796.7 33.3L796.8 33.2L796.8 33.3L796.8 33.5L796.9 34.0L796.9 34.5L797.0 35.1L797.0 35.5L797.1 35.8L797.1 35.9L797.1 35.8L797.2 35.6L797.2 35.3L797.3 34.9L797.3 34.5L797.4 34.2L797.4 33.8L797.5 33.5L797.5 33.2L797.5 33.1L797.6 33.2L797.6 33.5L797.7 33.9L797.7 34.5L797.8 35.0L797.8 35.5L797.8 35.7L797.9 35.8L797.9 35.7L798.0 35.5L798.0 35.2L798.1 34.9L798.1 34.5L798.1 34.1L798.2 33.8L798.2 33.4L798.3 33.2L798.3 33.1L798.4 33.2L798.4 33.4" stroke="#000000"/>
<path d="M459.6 154.1L798.4 -50.3" stroke="#1a1a1a" stroke-width="1.1" stroke-dasharray="12.6 7.72" stroke-dashoffset="-0.6"/>
</g>
<rect x="53" y="27" width="82" height="61.5" fill="#fff" fill-opacity="0.78"/>
<line x1="58.2" x2="91.8" y1="34.40" y2="34.40" stroke="#ff1414" stroke-width="1.35"/>
<text x="95" y="37.90" class="li" font-size="10.5">A=0.001J</text>
<line x1="58.2" x2="91.8" y1="47.35" y2="47.35" stroke="#1818ff" stroke-width="1.35"/>
<text x="95" y="50.85" class="li" font-size="10.5">A=0.01J</text>
<line x1="58.2" x2="91.8" y1="60.40" y2="60.40" stroke="#000000" stroke-width="1.35"/>
<text x="95" y="63.90" class="li" font-size="10.5">A=0.1J</text>
<line x1="58.2" x2="91.8" y1="73.20" y2="73.20" stroke="#878eab" stroke-width="1.35"/>
<text x="95" y="76.70" class="li" font-size="10.5">A=1J</text>
<line x1="708.2" x2="742" y1="173.90" y2="173.90" stroke="#ff1414" stroke-width="1.45"/>
<text x="744.8" y="177.10" class="li" font-size="10" stroke="#222" stroke-width="0.2">ω=0.02J</text>
<line x1="708.2" x2="742" y1="185.80" y2="185.80" stroke="#1818ff" stroke-width="1.45"/>
<text x="744.8" y="189.00" class="li" font-size="10" stroke="#222" stroke-width="0.2">ω=0.1J</text>
<line x1="708.2" x2="742" y1="197.80" y2="197.80" stroke="#222222" stroke-width="1.45"/>
<text x="744.8" y="201.00" class="li" font-size="10" stroke="#222" stroke-width="0.2">ω=0.2J</text>
<g stroke="#1c1c1c" stroke-width="1" fill="none">
<rect x="42.20" y="15.50" width="338.40" height="204.40"/>
<path d="M76.16 219.90v-2.00M76.16 15.50v2.00M96.02 219.90v-2.00M96.02 15.50v2.00M110.11 219.90v-2.00M110.11 15.50v2.00M121.04 219.90v-2.00M121.04 15.50v2.00M129.98 219.90v-2.00M129.98 15.50v2.00M137.53 219.90v-2.00M137.53 15.50v2.00M144.07 219.90v-2.00M144.07 15.50v2.00M149.84 219.90v-2.00M149.84 15.50v2.00M155.00 219.90v-3.90M155.00 15.50v3.90M188.96 219.90v-2.00M188.96 15.50v2.00M208.82 219.90v-2.00M208.82 15.50v2.00M222.91 219.90v-2.00M222.91 15.50v2.00M233.84 219.90v-2.00M233.84 15.50v2.00M242.78 219.90v-2.00M242.78 15.50v2.00M250.33 219.90v-2.00M250.33 15.50v2.00M256.87 219.90v-2.00M256.87 15.50v2.00M262.64 219.90v-2.00M262.64 15.50v2.00M267.80 219.90v-3.90M267.80 15.50v3.90M301.76 219.90v-2.00M301.76 15.50v2.00M321.62 219.90v-2.00M321.62 15.50v2.00M335.71 219.90v-2.00M335.71 15.50v2.00M346.64 219.90v-2.00M346.64 15.50v2.00M355.58 219.90v-2.00M355.58 15.50v2.00M363.13 219.90v-2.00M363.13 15.50v2.00M369.67 219.90v-2.00M369.67 15.50v2.00M375.44 219.90v-2.00M375.44 15.50v2.00M42.20 38.21h3.90M380.60 38.21h-3.90M42.20 83.63h3.90M380.60 83.63h-3.90M42.20 129.06h3.90M380.60 129.06h-3.90M42.20 174.48h3.90M380.60 174.48h-3.90"/>
</g>
<g stroke="#1c1c1c" stroke-width="1" fill="none">
<rect x="459.60" y="17.80" width="338.80" height="204.40"/>
<path d="M493.60 222.20v-2.00M493.60 17.80v2.00M513.48 222.20v-2.00M513.48 17.80v2.00M527.59 222.20v-2.00M527.59 17.80v2.00M538.54 222.20v-2.00M538.54 17.80v2.00M547.48 222.20v-2.00M547.48 17.80v2.00M555.04 222.20v-2.00M555.04 17.80v2.00M561.59 222.20v-2.00M561.59 17.80v2.00M567.37 222.20v-2.00M567.37 17.80v2.00M572.53 222.20v-3.90M572.53 17.80v3.90M606.53 222.20v-2.00M606.53 17.80v2.00M626.42 222.20v-2.00M626.42 17.80v2.00M640.53 222.20v-2.00M640.53 17.80v2.00M651.47 222.20v-2.00M651.47 17.80v2.00M660.41 222.20v-2.00M660.41 17.80v2.00M667.97 222.20v-2.00M667.97 17.80v2.00M674.52 222.20v-2.00M674.52 17.80v2.00M680.30 222.20v-2.00M680.30 17.80v2.00M685.47 222.20v-3.90M685.47 17.80v3.90M719.46 222.20v-2.00M719.46 17.80v2.00M739.35 222.20v-2.00M739.35 17.80v2.00M753.46 222.20v-2.00M753.46 17.80v2.00M764.40 222.20v-2.00M764.40 17.80v2.00M773.35 222.20v-2.00M773.35 17.80v2.00M780.91 222.20v-2.00M780.91 17.80v2.00M787.46 222.20v-2.00M787.46 17.80v2.00M793.23 222.20v-2.00M793.23 17.80v2.00M459.60 85.93h3.90M798.40 85.93h-3.90M459.60 154.07h3.90M798.40 154.07h-3.90M459.60 201.69h2.00M798.40 201.69h-2.00M459.60 189.69h2.00M798.40 189.69h-2.00M459.60 181.18h2.00M798.40 181.18h-2.00M459.60 174.58h2.00M798.40 174.58h-2.00M459.60 169.18h2.00M798.40 169.18h-2.00M459.60 164.62h2.00M798.40 164.62h-2.00M459.60 160.67h2.00M798.40 160.67h-2.00M459.60 157.18h2.00M798.40 157.18h-2.00M459.60 133.56h2.00M798.40 133.56h-2.00M459.60 121.56h2.00M798.40 121.56h-2.00M459.60 113.05h2.00M798.40 113.05h-2.00M459.60 106.44h2.00M798.40 106.44h-2.00M459.60 101.05h2.00M798.40 101.05h-2.00M459.60 96.49h2.00M798.40 96.49h-2.00M459.60 92.54h2.00M798.40 92.54h-2.00M459.60 89.05h2.00M798.40 89.05h-2.00M459.60 65.42h2.00M798.40 65.42h-2.00M459.60 53.43h2.00M798.40 53.43h-2.00M459.60 44.91h2.00M798.40 44.91h-2.00M459.60 38.31h2.00M798.40 38.31h-2.00M459.60 32.92h2.00M798.40 32.92h-2.00M459.60 28.35h2.00M798.40 28.35h-2.00M459.60 24.40h2.00M798.40 24.40h-2.00M459.60 20.92h2.00M798.40 20.92h-2.00"/>
</g>
<text x="36.00" y="44.81" text-anchor="end" class="tr" font-size="13">10<tspan dy="-5.4" font-size="9">0</tspan></text>
<text x="36.00" y="90.23" text-anchor="end" class="tr" font-size="13">10<tspan dy="-5.4" font-size="9">-2</tspan></text>
<text x="36.00" y="135.66" text-anchor="end" class="tr" font-size="13">10<tspan dy="-5.4" font-size="9">-4</tspan></text>
<text x="36.00" y="181.08" text-anchor="end" class="tr" font-size="13">10<tspan dy="-5.4" font-size="9">-6</tspan></text>
<text x="36.00" y="226.50" text-anchor="end" class="tr" font-size="13">10<tspan dy="-5.4" font-size="9">-8</tspan></text>
<text x="41.60" y="239.60" text-anchor="middle" class="tr" font-size="13">10<tspan dy="-5.4" font-size="9">0</tspan></text>
<text x="154.40" y="239.60" text-anchor="middle" class="tr" font-size="13">10<tspan dy="-5.4" font-size="9">1</tspan></text>
<text x="267.20" y="239.60" text-anchor="middle" class="tr" font-size="13">10<tspan dy="-5.4" font-size="9">2</tspan></text>
<text x="380.00" y="239.60" text-anchor="middle" class="tr" font-size="13">10<tspan dy="-5.4" font-size="9">3</tspan></text>
<text x="454.40" y="24.40" text-anchor="end" class="ti" font-size="13">10<tspan dy="-5.4" font-size="9">-3</tspan></text>
<text x="454.40" y="92.53" text-anchor="end" class="ti" font-size="13">10<tspan dy="-5.4" font-size="9">-4</tspan></text>
<text x="454.40" y="160.67" text-anchor="end" class="ti" font-size="13">10<tspan dy="-5.4" font-size="9">-5</tspan></text>
<text x="454.40" y="228.80" text-anchor="end" class="ti" font-size="13">10<tspan dy="-5.4" font-size="9">-6</tspan></text>
<text x="459.00" y="241.90" text-anchor="middle" class="ti" font-size="13">10<tspan dy="-5.4" font-size="9">0</tspan></text>
<text x="571.93" y="241.90" text-anchor="middle" class="ti" font-size="13">10<tspan dy="-5.4" font-size="9">1</tspan></text>
<text x="684.87" y="241.90" text-anchor="middle" class="ti" font-size="13">10<tspan dy="-5.4" font-size="9">2</tspan></text>
<text x="797.80" y="241.90" text-anchor="middle" class="ti" font-size="13">10<tspan dy="-5.4" font-size="9">3</tspan></text>
<text x="209.9" y="258.5" text-anchor="middle" class="li" font-size="13">time tJ</text>
<text x="631.4" y="258.5" text-anchor="middle" class="li" font-size="13">time tJ</text>
<g transform="translate(9.70 182.30) rotate(-90)"><text x="0" y="0" class="li" font-size="13">energy spread</text><g stroke="#333" stroke-width="0.75" fill="none" stroke-linejoin="miter"><path d="M82.9 -8.8l-4.6 5.85l4.6 5.85"/><path d="M120.2 -8.8l4.6 5.85l-4.6 5.85"/></g><text y="0" class="lr" font-size="13"><tspan x="84.6">(</tspan><tspan x="89.9">Δ</tspan><tspan x="99.0" class="li">E</tspan><tspan x="107.6">)</tspan><tspan x="112.9" dy="-5.2" font-size="9">2</tspan></text></g>
<g transform="translate(424.30 182.30) rotate(-90)"><text x="0" y="0" class="li" font-size="13">energy spread</text><g stroke="#333" stroke-width="0.75" fill="none" stroke-linejoin="miter"><path d="M82.9 -8.8l-4.6 5.85l4.6 5.85"/><path d="M120.2 -8.8l4.6 5.85l-4.6 5.85"/></g><text y="0" class="lr" font-size="13"><tspan x="84.6">(</tspan><tspan x="89.9">Δ</tspan><tspan x="99.0" class="li">E</tspan><tspan x="107.6">)</tspan><tspan x="112.9" dy="-5.2" font-size="9">2</tspan></text></g>
<text y="9.60" font-size="14" class="lr"><tspan x="164.50" class="li">W</tspan><tspan x="195.70">6</tspan><tspan x="203.60" class="li">J</tspan><tspan x="209.00">,</tspan><tspan x="213.80" class="li">ω</tspan><tspan x="241.20">0.1</tspan><tspan x="259.40" class="li">J</tspan></text><rect x="182.70" y="3.55" width="8.9" height="0.75" fill="#222"/><rect x="182.70" y="6.55" width="8.9" height="0.75" fill="#222"/><rect x="227.70" y="3.55" width="8.9" height="0.75" fill="#222"/><rect x="227.70" y="6.55" width="8.9" height="0.75" fill="#222"/>
<text y="9.60" font-size="14" class="lr"><tspan x="576.50" class="li">W</tspan><tspan x="607.60">6</tspan><tspan x="615.80" class="li">J</tspan><tspan x="621.30">,</tspan><tspan x="627.30" class="li">A</tspan><tspan x="652.70">0.01</tspan><tspan x="677.50" class="li">J</tspan></text><rect x="594.40" y="3.55" width="8.9" height="0.75" fill="#222"/><rect x="594.40" y="6.55" width="8.9" height="0.75" fill="#222"/><rect x="640.00" y="3.55" width="8.9" height="0.75" fill="#222"/><rect x="640.00" y="6.55" width="8.9" height="0.75" fill="#222"/>
<text x="1.9" y="9.0" class="li" font-size="13">(a)</text>
<text x="412.5" y="9.4" class="li" font-size="13">(b)</text>
</svg>
</body></html>
